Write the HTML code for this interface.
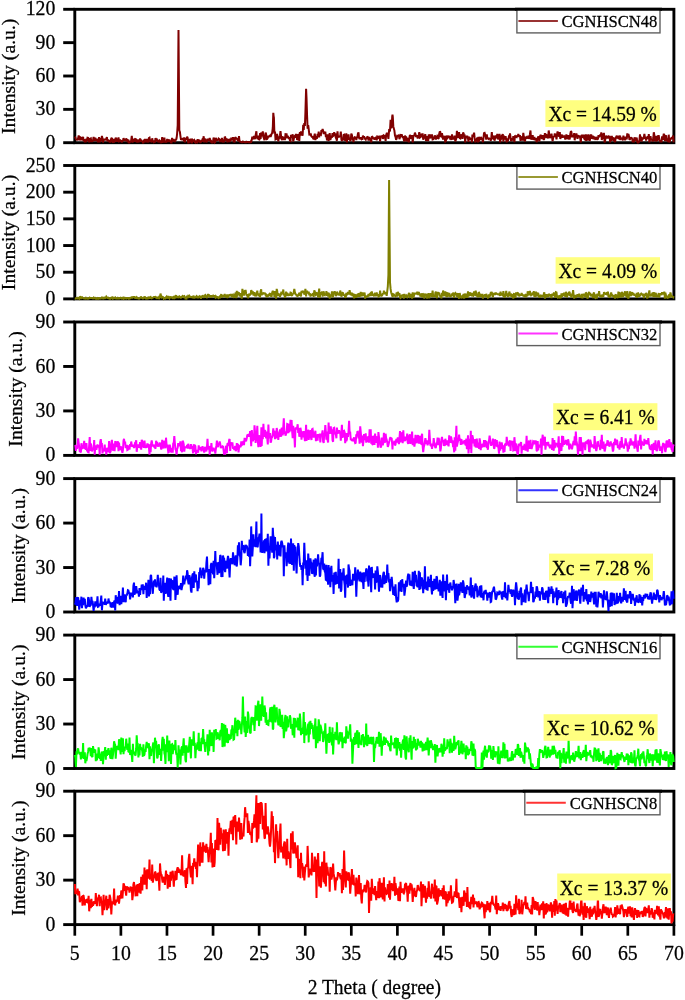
<!DOCTYPE html><html><head><meta charset="utf-8"><style>html,body{margin:0;padding:0;background:#fff;overflow:hidden}svg{display:block;will-change:transform}</style></head><body>
<svg width="685" height="1000" viewBox="0 0 685 1000" font-family="'Liberation Serif', serif" stroke-width="0.25">
<rect width="685" height="1000" fill="#fff"/>
<rect x="74.8" y="9.3" width="599.1" height="133.4" fill="none" stroke="#000" stroke-width="2.9"/>
<line x1="63.2" y1="142.70" x2="74.8" y2="142.70" stroke="#000" stroke-width="2.9"/>
<text transform="translate(55.4,148.7) scale(1,1.05)" font-size="19.8" text-anchor="end" fill="#000" stroke="#000">0</text>
<line x1="63.2" y1="109.35" x2="74.8" y2="109.35" stroke="#000" stroke-width="2.9"/>
<text transform="translate(55.4,115.4) scale(1,1.05)" font-size="19.8" text-anchor="end" fill="#000" stroke="#000">30</text>
<line x1="63.2" y1="76.00" x2="74.8" y2="76.00" stroke="#000" stroke-width="2.9"/>
<text transform="translate(55.4,82.0) scale(1,1.05)" font-size="19.8" text-anchor="end" fill="#000" stroke="#000">60</text>
<line x1="63.2" y1="42.65" x2="74.8" y2="42.65" stroke="#000" stroke-width="2.9"/>
<text transform="translate(55.4,48.7) scale(1,1.05)" font-size="19.8" text-anchor="end" fill="#000" stroke="#000">90</text>
<line x1="63.2" y1="9.30" x2="74.8" y2="9.30" stroke="#000" stroke-width="2.9"/>
<text transform="translate(55.4,15.3) scale(1,1.05)" font-size="19.8" text-anchor="end" fill="#000" stroke="#000">120</text>
<text transform="translate(15.4,76.3) rotate(-90)" font-size="19.7" text-anchor="middle" fill="#000" stroke="#000">Intensity (a.u.)</text>
<polyline points="74.8,138.3 75.4,137.6 75.9,138.8 76.5,140.1 77.0,139.2 77.6,140.3 78.1,138.1 78.7,135.4 79.2,139.3 79.8,139.6 80.3,137.2 80.9,137.5 81.4,138.0 82.0,140.2 82.5,138.3 83.1,136.8 83.6,141.1 84.2,139.2 84.8,142.2 85.3,141.0 85.9,142.1 86.4,138.7 87.0,140.9 87.5,137.7 88.1,137.9 88.6,138.6 89.2,142.4 89.7,139.6 90.3,138.7 90.8,138.4 91.4,142.0 91.9,139.9 92.5,141.0 93.0,140.7 93.6,136.9 94.2,140.9 94.7,139.4 95.3,137.6 95.8,140.8 96.4,139.9 96.9,139.5 97.5,139.7 98.0,142.4 98.6,139.8 99.1,137.1 99.7,142.4 100.2,138.2 100.8,139.7 101.3,141.3 101.9,135.9 102.5,138.5 103.0,142.4 103.6,139.9 104.1,138.9 104.7,140.5 105.2,138.7 105.8,140.2 106.3,138.7 106.9,137.2 107.4,141.5 108.0,139.7 108.5,141.1 109.1,139.9 109.6,142.4 110.2,141.4 110.7,140.6 111.3,138.4 111.9,137.9 112.4,142.4 113.0,141.9 113.5,139.0 114.1,142.4 114.6,141.3 115.2,140.5 115.7,137.8 116.3,138.9 116.8,141.1 117.4,141.1 117.9,140.9 118.5,137.3 119.0,141.3 119.6,141.1 120.1,139.7 120.7,140.7 121.3,140.9 121.8,142.4 122.4,140.5 122.9,141.4 123.5,138.1 124.0,139.1 124.6,140.5 125.1,139.1 125.7,141.2 126.2,138.3 126.8,140.5 127.3,139.3 127.9,142.4 128.4,139.8 129.0,142.4 129.5,142.4 130.1,141.1 130.7,142.3 131.2,140.1 131.8,135.9 132.3,142.2 132.9,141.7 133.4,140.1 134.0,139.5 134.5,140.8 135.1,140.9 135.6,139.1 136.2,139.4 136.7,142.4 137.3,140.6 137.8,140.4 138.4,142.4 138.9,140.0 139.5,142.2 140.1,138.5 140.6,140.1 141.2,140.3 141.7,141.7 142.3,140.7 142.8,142.4 143.4,142.4 143.9,139.7 144.5,142.4 145.0,138.8 145.6,142.4 146.1,139.0 146.7,142.2 147.2,138.9 147.8,140.2 148.4,142.4 148.9,138.0 149.5,137.6 150.0,140.6 150.6,141.0 151.1,140.8 151.7,142.4 152.2,138.3 152.8,141.6 153.3,140.6 153.9,142.1 154.4,141.7 155.0,142.4 155.5,138.0 156.1,140.8 156.6,138.5 157.2,140.5 157.8,141.9 158.3,141.1 158.9,141.6 159.4,140.5 160.0,141.2 160.5,141.1 161.1,142.4 161.6,142.1 162.2,137.2 162.7,141.8 163.3,142.4 163.8,139.8 164.4,137.7 164.9,142.4 165.5,140.9 166.0,141.7 166.6,142.4 167.2,139.0 167.7,140.5 168.3,140.3 168.8,142.0 169.4,139.6 169.9,141.5 170.5,140.8 171.0,142.4 171.6,142.4 172.1,137.8 172.7,141.5 173.2,139.9 173.8,140.5 174.3,141.3 174.9,141.4 175.4,139.0 176.0,140.3 176.6,138.1 177.1,133.8 177.7,125.2 178.2,66.4 178.5,30.1 178.8,68.9 179.3,130.2 179.9,132.0 180.4,135.8 181.0,139.9 181.5,139.2 182.1,138.9 182.6,138.8 183.2,138.6 183.7,141.3 184.3,137.4 184.9,142.4 185.4,138.7 186.0,139.4 186.5,138.7 187.1,136.7 187.6,137.5 188.2,142.4 188.7,142.4 189.3,138.8 189.8,142.3 190.4,140.4 190.9,138.7 191.5,142.4 192.0,142.4 192.6,139.8 193.1,140.2 193.7,140.8 194.3,140.2 194.8,142.0 195.4,142.4 195.9,140.6 196.5,142.2 197.0,142.4 197.6,139.3 198.1,140.4 198.7,139.5 199.2,142.2 199.8,141.5 200.3,142.2 200.9,142.0 201.4,139.9 202.0,141.8 202.5,139.5 203.1,139.6 203.7,136.3 204.2,142.4 204.8,138.5 205.3,140.4 205.9,140.2 206.4,142.4 207.0,141.1 207.5,138.8 208.1,140.3 208.6,140.0 209.2,140.7 209.7,137.9 210.3,140.2 210.8,142.4 211.4,141.5 211.9,142.4 212.5,142.4 213.1,141.2 213.6,137.6 214.2,140.0 214.7,142.4 215.3,141.9 215.8,137.9 216.4,139.8 216.9,140.0 217.5,140.2 218.0,140.0 218.6,138.6 219.1,139.0 219.7,139.7 220.2,142.1 220.8,139.1 221.3,141.4 221.9,138.0 222.5,142.4 223.0,140.3 223.6,140.1 224.1,142.4 224.7,136.8 225.2,137.3 225.8,140.9 226.3,138.6 226.9,139.3 227.4,142.4 228.0,139.5 228.5,140.1 229.1,139.8 229.6,142.0 230.2,140.5 230.8,140.3 231.3,137.7 231.9,139.3 232.4,140.0 233.0,137.1 233.5,141.0 234.1,140.7 234.6,142.4 235.2,137.0 235.7,138.1 236.3,138.2 236.8,138.7 237.4,139.7 237.9,139.5 238.5,141.1 239.0,136.0 239.6,142.0 240.2,141.5 240.7,141.8 241.3,142.1 241.8,142.2 242.4,142.2 242.9,141.5 243.5,141.9 244.0,142.0 244.6,142.1 245.1,142.4 245.7,142.1 246.2,141.7 246.8,142.2 247.3,142.1 247.9,142.1 248.4,142.0 249.0,142.4 249.6,142.1 250.1,142.3 250.7,141.7 251.2,141.8 251.8,139.6 252.3,136.7 252.9,138.7 253.4,138.5 254.0,136.1 254.5,136.6 255.1,139.2 255.6,135.4 256.4,131.2 256.7,137.3 257.3,137.1 257.8,139.4 258.4,135.7 259.0,139.9 259.5,139.5 260.1,133.2 260.6,139.0 261.2,133.7 261.4,132.5 261.7,135.9 262.3,135.1 262.8,131.4 263.4,137.1 263.9,138.2 264.5,140.2 265.0,136.5 265.6,132.6 266.1,134.0 266.7,139.1 267.2,138.9 267.8,137.9 268.4,135.8 268.9,137.1 269.5,136.0 270.0,135.6 270.6,136.9 271.1,135.5 271.7,133.6 272.2,132.8 272.8,127.7 273.3,112.8 273.6,115.8 273.9,117.6 274.4,133.6 275.0,131.6 275.5,139.5 276.1,139.2 276.7,134.0 277.2,134.8 277.8,137.2 278.3,141.4 278.9,137.9 279.4,138.7 280.0,135.2 280.5,131.0 281.1,136.4 281.6,139.1 282.2,140.1 282.7,137.2 283.3,137.5 283.8,140.1 284.4,136.8 284.9,140.1 285.5,134.2 286.1,134.3 286.6,134.3 287.2,138.4 287.7,135.8 288.3,137.4 288.8,138.1 289.4,138.0 289.9,140.5 290.5,140.9 291.0,134.9 291.6,137.5 292.1,136.4 292.7,134.3 293.2,141.5 293.8,139.0 294.3,136.4 294.9,135.8 295.5,137.8 296.0,134.0 296.6,136.1 297.1,139.8 297.7,139.0 298.2,134.2 298.8,135.0 299.3,141.0 299.9,132.1 300.4,133.8 301.0,131.4 301.5,135.5 302.1,134.5 302.6,135.7 303.2,124.7 303.7,130.0 304.3,123.1 304.9,126.0 305.4,112.8 306.1,88.9 306.5,97.5 307.1,116.2 307.6,128.8 308.2,125.1 308.7,129.1 309.3,134.4 309.8,134.2 310.4,135.0 310.9,134.5 311.5,136.2 312.0,137.3 312.6,136.2 313.1,138.3 313.7,139.2 314.3,136.0 314.8,133.7 315.4,140.1 315.9,136.1 316.5,137.9 317.0,138.7 317.6,133.8 318.1,137.3 318.7,131.7 319.2,137.3 319.8,133.6 320.3,134.3 320.9,134.7 321.4,130.2 322.0,131.4 322.6,128.9 323.1,130.7 323.7,134.0 324.2,132.3 324.8,132.9 325.3,131.5 325.9,137.2 326.4,135.5 327.0,140.3 327.5,134.3 328.1,138.9 328.6,140.9 329.2,136.3 329.7,133.1 330.3,139.8 330.8,138.4 331.4,137.1 332.0,137.6 332.5,133.2 333.1,136.0 333.6,135.6 334.2,132.2 334.7,136.0 335.3,133.3 335.8,137.6 336.4,138.7 336.9,140.7 337.5,131.3 338.0,137.3 338.6,135.9 339.1,136.7 339.7,136.2 340.2,136.6 340.8,131.7 341.4,139.5 341.9,140.8 342.5,139.4 343.0,140.3 343.6,134.9 344.1,134.7 344.7,139.4 345.2,140.5 345.8,137.8 346.3,133.3 346.9,142.4 347.4,135.6 348.0,139.8 348.5,134.3 349.1,139.9 349.6,137.8 350.2,141.0 350.8,139.7 351.3,133.5 351.9,135.0 352.4,138.2 353.0,139.4 353.5,142.1 354.1,138.2 354.6,137.2 355.2,137.4 355.7,137.4 356.3,140.1 356.8,137.3 357.4,137.2 357.9,133.8 358.5,132.3 359.0,137.5 359.6,139.1 360.2,137.3 360.7,138.7 361.3,139.1 361.8,137.3 362.4,139.9 362.9,135.6 363.5,137.4 364.0,136.5 364.6,137.6 365.1,139.0 365.7,139.6 366.2,137.8 366.8,138.6 367.3,136.5 367.9,137.2 368.5,140.7 369.0,137.0 369.6,140.6 370.1,138.7 370.7,137.9 371.2,142.4 371.8,136.9 372.3,136.7 372.9,137.6 373.4,138.2 374.0,138.1 374.5,139.7 375.1,137.8 375.6,138.6 376.2,136.9 376.7,140.3 377.3,136.5 377.9,136.8 378.4,137.5 379.0,138.3 379.5,135.7 380.1,141.5 380.6,135.9 381.2,136.5 381.7,136.4 382.3,136.1 382.8,138.8 383.4,137.8 383.9,135.5 384.5,136.0 385.0,136.5 385.6,140.8 386.1,135.3 386.7,133.4 387.3,133.4 387.8,134.9 388.4,138.8 389.1,130.2 389.5,130.4 390.0,130.5 390.6,119.9 391.1,127.9 391.7,126.9 392.2,116.6 392.5,114.7 392.8,116.8 393.3,126.4 393.9,128.7 394.4,130.6 395.0,135.8 395.5,136.7 396.1,139.7 396.7,138.5 397.2,135.8 397.8,136.0 398.3,136.8 398.9,134.5 399.4,139.1 400.0,137.3 400.5,135.2 401.1,135.6 401.6,134.4 402.2,136.1 402.7,137.9 403.3,136.2 403.8,139.7 404.4,141.4 405.0,135.6 405.5,137.3 406.1,136.3 406.6,141.5 407.2,138.1 407.7,138.7 408.3,139.4 408.8,142.4 409.4,138.0 409.9,134.8 410.5,136.2 411.0,138.7 411.6,137.2 412.1,135.2 412.7,142.4 413.2,137.5 413.8,135.7 414.4,135.4 414.9,132.7 415.5,134.2 416.0,136.3 416.6,136.4 417.1,135.1 417.7,138.5 418.2,137.2 418.8,134.8 419.3,132.1 419.9,137.6 420.4,137.3 421.0,136.6 421.5,133.7 422.1,137.2 422.6,133.4 423.2,139.6 423.8,137.6 424.3,137.7 424.9,135.1 425.4,134.4 426.0,141.0 426.5,139.5 427.1,136.3 427.6,138.8 428.2,141.1 428.7,134.5 429.3,135.9 429.8,135.9 430.4,138.4 430.9,134.5 431.5,137.8 432.0,134.3 432.6,139.5 433.2,139.3 433.7,136.6 434.3,138.9 434.8,135.4 435.4,136.5 435.9,139.5 436.5,137.0 437.0,138.0 437.6,134.8 438.1,138.8 438.7,138.3 439.2,134.0 439.8,131.4 440.3,132.0 440.9,137.0 441.4,136.6 442.0,133.2 442.6,137.5 443.1,139.6 443.7,136.8 444.2,136.0 444.8,139.3 445.3,141.4 445.9,140.9 446.4,135.5 447.0,139.2 447.5,137.6 448.1,136.7 448.6,135.7 449.2,138.1 449.7,136.0 450.3,139.6 450.9,138.2 451.4,139.9 452.0,134.4 452.5,137.4 453.1,139.2 453.6,138.2 454.2,137.9 454.7,135.6 455.3,141.5 455.8,140.0 456.4,138.4 456.9,130.9 457.5,135.0 458.0,137.7 458.6,135.6 459.1,132.2 459.7,138.1 460.3,138.4 460.8,134.4 461.4,136.2 461.9,135.8 462.5,138.8 463.0,132.6 463.6,133.2 464.1,136.1 464.7,135.8 465.2,142.4 465.8,135.9 466.3,138.1 466.9,136.5 467.4,135.9 468.0,138.5 468.5,141.9 469.1,136.7 469.7,139.5 470.2,138.5 470.8,139.2 471.3,138.6 471.9,142.4 472.4,134.6 473.0,137.1 473.5,134.9 474.1,132.7 474.6,137.7 475.2,142.4 475.7,140.0 476.3,140.9 476.8,139.1 477.4,137.6 477.9,142.4 478.5,136.9 479.1,141.7 479.6,137.1 480.2,138.1 480.7,138.7 481.3,138.1 481.8,139.3 482.4,139.5 482.9,142.2 483.5,138.0 484.0,133.2 484.6,132.9 485.1,134.6 485.7,136.2 486.2,139.7 486.8,134.3 487.3,138.1 487.9,138.2 488.5,138.8 489.0,137.8 489.6,139.1 490.1,138.2 490.7,140.8 491.2,138.9 491.8,132.2 492.3,138.1 492.9,138.5 493.4,136.6 494.0,136.1 494.5,140.7 495.1,138.4 495.6,135.5 496.2,137.1 496.8,137.5 497.3,133.8 497.9,139.5 498.4,137.5 499.0,139.0 499.5,133.9 500.1,142.4 500.6,139.4 501.2,139.0 501.7,136.0 502.3,136.1 502.8,134.1 503.4,141.6 503.9,135.7 504.5,138.3 505.0,139.2 505.6,136.1 506.2,139.8 506.7,142.4 507.3,138.4 507.8,141.2 508.4,139.1 508.9,136.5 509.5,136.6 510.0,133.4 510.6,137.9 511.1,141.2 511.7,139.2 512.2,139.6 512.8,140.4 513.3,136.2 513.9,138.9 514.4,142.2 515.0,135.4 515.6,137.5 516.1,136.3 516.7,136.9 517.2,135.5 517.8,137.0 518.3,134.0 518.9,136.0 519.4,136.1 520.0,136.1 520.5,140.8 521.1,137.5 521.6,137.7 522.2,136.6 522.7,140.5 523.3,132.9 523.8,136.8 524.4,140.1 525.0,141.4 525.5,137.8 526.1,137.3 526.6,138.8 527.2,136.8 527.7,138.6 528.3,135.6 528.8,138.8 529.4,137.1 529.9,134.5 530.5,130.5 531.0,139.5 531.6,138.1 532.1,139.1 532.7,135.0 533.2,139.8 533.8,138.2 534.4,137.0 534.9,139.4 535.5,139.3 536.0,138.1 536.6,142.2 537.1,140.5 537.7,137.9 538.2,136.5 538.8,137.3 539.3,141.3 539.9,138.0 540.4,134.9 541.0,135.5 541.5,137.0 542.1,139.1 542.7,135.2 543.2,138.3 543.8,139.8 544.3,138.8 544.9,133.2 545.4,136.2 546.0,133.9 546.5,138.0 547.1,134.4 547.6,138.3 548.2,137.2 548.7,130.5 549.3,134.8 549.8,138.0 550.4,137.0 550.9,135.9 551.5,133.7 552.1,137.9 552.6,141.1 553.2,137.4 553.7,136.7 554.3,136.4 554.8,133.4 555.4,135.9 555.9,134.6 556.5,139.4 557.0,134.5 557.6,131.4 558.1,134.7 558.7,136.0 559.2,136.2 559.8,132.1 560.3,138.9 560.9,136.9 561.5,135.5 562.0,134.7 562.6,137.7 563.1,135.8 563.7,137.3 564.2,136.3 564.8,137.0 565.3,139.5 565.9,136.7 566.4,134.5 567.0,139.1 567.5,137.3 568.1,135.1 568.6,139.5 569.2,136.3 569.7,139.5 570.3,134.0 570.9,131.1 571.4,131.8 572.0,137.4 572.5,135.1 573.1,136.6 573.6,136.7 574.2,133.1 574.7,140.3 575.3,134.4 575.8,137.2 576.4,133.5 576.9,136.6 577.5,138.8 578.0,136.4 578.6,135.3 579.2,137.1 579.7,136.0 580.3,138.5 580.8,142.4 581.4,135.0 581.9,135.5 582.5,136.9 583.0,137.1 583.6,134.7 584.1,138.5 584.7,139.1 585.2,137.8 585.8,134.4 586.3,140.9 586.9,134.5 587.4,139.1 588.0,140.2 588.6,134.4 589.1,137.8 589.7,140.8 590.2,138.5 590.8,135.3 591.3,134.6 591.9,138.7 592.4,136.6 593.0,135.9 593.5,139.3 594.1,136.8 594.6,137.8 595.2,139.1 595.7,139.0 596.3,137.6 596.8,137.7 597.4,139.2 598.0,138.9 598.5,135.1 599.1,137.3 599.6,135.7 600.2,134.9 600.7,136.5 601.3,132.3 601.8,140.0 602.4,136.0 602.9,138.8 603.5,133.4 604.0,133.8 604.6,142.4 605.1,140.5 605.7,136.5 606.2,136.2 606.8,136.3 607.4,138.4 607.9,137.1 608.5,136.6 609.0,138.4 609.6,135.7 610.1,142.4 610.7,136.7 611.2,140.8 611.8,135.9 612.3,138.8 612.9,140.5 613.4,137.3 614.0,140.5 614.5,140.5 615.1,142.1 615.6,138.3 616.2,137.0 616.8,135.7 617.3,138.6 617.9,135.7 618.4,138.2 619.0,138.5 619.5,136.8 620.1,135.6 620.6,139.1 621.2,138.9 621.7,138.7 622.3,138.0 622.8,140.5 623.4,135.7 623.9,139.2 624.5,137.1 625.1,140.3 625.6,137.4 626.2,137.3 626.7,139.3 627.3,133.3 627.8,137.3 628.4,133.9 628.9,135.9 629.5,139.9 630.0,139.2 630.6,137.2 631.1,138.1 631.7,138.1 632.2,139.0 632.8,142.4 633.3,138.8 633.9,142.4 634.5,137.3 635.0,140.0 635.6,140.0 636.1,138.8 636.7,137.6 637.2,141.8 637.8,142.4 638.3,140.9 638.9,142.4 639.4,140.6 640.0,134.3 640.5,140.9 641.1,136.6 641.6,141.6 642.2,137.5 642.7,139.0 643.3,138.4 643.9,136.9 644.4,133.9 645.0,137.8 645.5,137.9 646.1,140.6 646.6,136.8 647.2,138.9 647.7,136.2 648.3,138.4 648.8,134.0 649.4,142.4 649.9,139.0 650.5,136.1 651.0,139.1 651.6,140.2 652.1,138.9 652.7,141.6 653.3,138.0 653.8,132.3 654.4,135.4 654.9,141.0 655.5,140.4 656.0,139.2 656.6,135.8 657.1,140.3 657.7,139.9 658.2,136.1 658.8,136.1 659.3,139.2 659.9,141.0 660.4,142.1 661.0,140.0 661.5,142.4 662.1,136.4 662.7,139.8 663.2,137.1 663.8,133.7 664.3,135.4 664.9,141.1 665.4,136.1 666.0,135.4 666.5,140.1 667.1,140.6 667.6,138.5 668.2,142.2 668.7,134.7 669.3,142.4 669.8,141.0 670.4,138.9 671.0,138.8 671.5,137.8 672.1,137.6 672.6,138.8 673.2,135.5 673.7,142.4" fill="none" stroke="#800000" stroke-width="2.0" stroke-linejoin="miter" stroke-miterlimit="2"/>
<rect x="545.4" y="100.2" width="114.4" height="26.7" fill="#ffff80"/>
<text transform="translate(602.6,120.9) scale(1,1.05)" font-size="19.5" text-anchor="middle" fill="#000" stroke="#000">Xc = 14.59 %</text>
<rect x="516.9" y="9.3" width="143.1" height="23.6" fill="#fff" stroke="#606060" stroke-width="1.4"/>
<line x1="518.4" y1="20.9" x2="557.9" y2="20.9" stroke="#800000" stroke-opacity="0.8" stroke-width="2"/>
<text transform="translate(657.4,26.9) scale(1,1.05)" font-size="16.6" text-anchor="end" fill="#000" stroke="#000">CGNHSCN48</text>
<line x1="514.9" y1="9.3" x2="662" y2="9.3" stroke="#000" stroke-width="2.9"/>
<rect x="74.8" y="165.5" width="599.1" height="133.4" fill="none" stroke="#000" stroke-width="2.9"/>
<line x1="63.2" y1="298.90" x2="74.8" y2="298.90" stroke="#000" stroke-width="2.9"/>
<text transform="translate(55.4,304.9) scale(1,1.05)" font-size="19.8" text-anchor="end" fill="#000" stroke="#000">0</text>
<line x1="63.2" y1="272.22" x2="74.8" y2="272.22" stroke="#000" stroke-width="2.9"/>
<text transform="translate(55.4,278.2) scale(1,1.05)" font-size="19.8" text-anchor="end" fill="#000" stroke="#000">50</text>
<line x1="63.2" y1="245.54" x2="74.8" y2="245.54" stroke="#000" stroke-width="2.9"/>
<text transform="translate(55.4,251.5) scale(1,1.05)" font-size="19.8" text-anchor="end" fill="#000" stroke="#000">100</text>
<line x1="63.2" y1="218.86" x2="74.8" y2="218.86" stroke="#000" stroke-width="2.9"/>
<text transform="translate(55.4,224.9) scale(1,1.05)" font-size="19.8" text-anchor="end" fill="#000" stroke="#000">150</text>
<line x1="63.2" y1="192.18" x2="74.8" y2="192.18" stroke="#000" stroke-width="2.9"/>
<text transform="translate(55.4,198.2) scale(1,1.05)" font-size="19.8" text-anchor="end" fill="#000" stroke="#000">200</text>
<line x1="63.2" y1="165.50" x2="74.8" y2="165.50" stroke="#000" stroke-width="2.9"/>
<text transform="translate(55.4,171.5) scale(1,1.05)" font-size="19.8" text-anchor="end" fill="#000" stroke="#000">250</text>
<text transform="translate(15.3,232.5) rotate(-90)" font-size="19.7" text-anchor="middle" fill="#000" stroke="#000">Intensity (a.u.)</text>
<polyline points="74.8,298.3 75.4,298.6 75.9,298.2 76.5,298.1 77.0,298.6 77.6,298.6 78.1,297.8 78.7,298.0 79.2,298.6 79.8,297.0 80.3,296.9 80.9,298.6 81.4,298.0 82.0,296.7 82.5,297.8 83.1,298.1 83.6,298.3 84.2,298.5 84.8,298.3 85.3,298.5 85.9,297.8 86.4,298.4 87.0,298.5 87.5,298.6 88.1,298.2 88.6,298.6 89.2,298.3 89.7,297.6 90.3,298.0 90.8,297.9 91.4,298.0 91.9,298.1 92.5,298.3 93.0,298.4 93.6,297.7 94.2,298.6 94.7,297.3 95.3,298.1 95.8,298.6 96.4,298.5 96.9,298.6 97.5,298.1 98.0,298.6 98.6,297.4 99.1,298.6 99.7,298.6 100.2,298.6 100.8,298.6 101.3,298.2 101.9,297.5 102.5,297.7 103.0,298.6 103.6,298.6 104.1,297.0 104.7,297.9 105.2,298.1 105.8,297.4 106.3,296.5 106.9,297.3 107.4,298.0 108.0,297.9 108.5,297.7 109.1,298.5 109.6,298.6 110.2,298.1 110.7,298.6 111.3,298.1 111.9,298.0 112.4,296.6 113.0,298.6 113.5,298.2 114.1,298.2 114.6,297.8 115.2,297.4 115.7,298.4 116.3,298.6 116.8,298.6 117.4,298.6 117.9,297.7 118.5,298.0 119.0,298.6 119.6,298.3 120.1,298.0 120.7,297.7 121.3,298.4 121.8,298.2 122.4,298.6 122.9,298.6 123.5,296.9 124.0,298.6 124.6,298.2 125.1,297.9 125.7,298.3 126.2,298.5 126.8,298.0 127.3,298.0 127.9,298.0 128.4,298.6 129.0,298.1 129.5,298.6 130.1,298.3 130.7,297.8 131.2,297.5 131.8,297.3 132.3,298.3 132.9,297.3 133.4,297.1 134.0,297.1 134.5,297.0 135.1,298.0 135.6,298.0 136.2,297.3 136.7,298.6 137.3,297.8 137.8,298.3 138.4,298.2 138.9,298.6 139.5,298.5 140.1,297.9 140.6,297.3 141.2,297.2 141.7,297.9 142.3,298.0 142.8,298.4 143.4,297.6 143.9,298.0 144.5,297.4 145.0,296.6 145.6,297.9 146.1,298.6 146.7,298.4 147.2,298.6 147.8,298.6 148.4,296.9 148.9,297.6 149.5,298.6 150.0,297.3 150.6,296.9 151.1,298.0 151.7,298.3 152.2,298.0 152.8,297.6 153.3,297.3 153.9,296.9 154.4,296.9 155.0,296.9 155.5,296.8 156.1,297.3 156.6,298.6 157.2,297.8 157.8,297.5 158.3,298.0 158.9,297.1 159.4,298.0 160.0,297.2 160.5,293.6 161.1,295.9 161.6,297.4 162.2,296.9 162.7,296.8 163.3,297.3 163.8,298.6 164.4,298.0 164.9,297.8 165.5,298.2 166.0,297.3 166.6,296.6 167.2,297.8 167.7,298.3 168.3,295.9 168.8,297.8 169.4,298.4 169.9,297.2 170.5,297.1 171.0,298.0 171.6,296.8 172.1,297.8 172.7,298.1 173.2,297.2 173.8,296.8 174.3,297.9 174.9,297.1 175.4,297.4 176.0,295.1 176.6,297.9 177.1,296.2 177.7,297.3 178.2,297.4 178.5,296.7 178.8,296.6 179.3,296.3 179.9,297.0 180.4,297.7 181.0,297.7 181.5,296.8 182.1,296.8 182.6,296.1 183.2,296.9 183.7,296.3 184.3,296.0 184.9,297.1 185.4,298.4 186.0,298.1 186.5,298.4 187.1,295.8 187.6,297.9 188.2,296.1 188.7,296.6 189.3,295.7 189.8,296.3 190.4,297.2 190.9,297.3 191.5,297.0 192.0,296.9 192.6,297.5 193.1,297.1 193.7,295.7 194.3,298.5 194.8,296.8 195.4,297.8 195.9,296.8 196.5,296.2 197.0,297.0 197.6,296.2 198.1,298.3 198.7,295.9 199.2,297.4 199.8,296.3 200.3,296.7 200.9,298.6 201.4,297.4 202.0,296.6 202.5,295.3 203.1,296.4 203.7,296.5 204.2,297.9 204.8,295.3 205.3,295.0 205.9,296.6 206.4,296.8 207.0,298.0 207.5,295.7 208.1,294.0 208.6,295.8 209.2,295.3 209.7,295.9 210.3,297.3 210.8,295.2 211.4,297.5 211.9,296.6 212.5,296.1 213.1,295.5 213.6,295.9 214.2,295.9 214.7,297.0 215.3,297.5 215.8,296.2 216.4,296.9 216.9,297.4 217.5,297.4 218.0,296.6 218.6,297.9 219.1,297.4 219.7,297.6 220.2,295.9 220.8,295.6 221.3,294.1 221.9,297.4 222.5,296.6 223.0,295.0 223.6,296.1 224.1,296.2 224.7,294.1 225.2,296.1 225.8,296.9 226.3,297.0 226.9,295.3 227.4,295.3 228.0,297.0 228.5,296.5 229.1,295.0 229.6,294.9 230.2,296.1 230.8,294.8 231.3,294.8 231.9,297.2 232.4,295.6 233.0,294.8 233.5,295.9 234.1,297.9 234.6,295.5 235.2,294.0 235.7,292.7 236.3,298.2 236.8,290.8 237.4,296.6 237.9,293.1 238.5,292.6 239.0,292.9 239.6,294.2 240.2,296.6 240.7,293.2 241.3,295.7 241.8,298.6 242.4,288.8 242.9,292.8 243.5,290.6 244.0,295.7 244.6,291.1 245.1,290.8 245.7,290.8 246.2,293.9 246.8,296.1 247.3,294.2 247.9,298.1 248.4,297.1 249.0,293.7 249.6,295.8 250.1,294.2 250.7,294.1 251.2,290.1 251.8,291.4 252.3,293.9 252.9,291.5 253.4,295.4 254.0,294.5 254.5,292.1 255.1,296.3 255.6,294.4 256.4,296.4 256.7,293.7 257.3,290.7 257.8,295.3 258.4,293.5 259.0,295.6 259.5,296.1 260.1,296.3 260.6,291.1 261.2,289.4 261.4,293.0 261.7,295.3 262.3,292.6 262.8,294.6 263.4,292.4 263.9,293.4 264.5,293.4 265.0,292.8 265.6,295.0 266.1,294.7 266.7,297.2 267.2,294.8 267.8,296.7 268.4,294.2 268.9,295.8 269.5,293.7 270.0,293.1 270.6,296.7 271.1,295.5 271.7,295.8 272.2,292.5 272.8,290.7 273.3,292.3 273.6,294.6 273.9,291.1 274.4,296.9 275.0,291.1 275.5,295.2 276.1,298.6 276.7,288.9 277.2,290.9 277.8,296.0 278.3,293.7 278.9,294.4 279.4,293.8 280.0,296.8 280.5,295.3 281.1,293.1 281.6,293.6 282.2,291.7 282.7,293.8 283.3,289.5 283.8,295.4 284.4,293.5 284.9,297.7 285.5,296.4 286.1,291.5 286.6,295.8 287.2,293.0 287.7,294.1 288.3,296.0 288.8,294.7 289.4,295.0 289.9,295.0 290.5,292.6 291.0,292.8 291.6,295.1 292.1,295.8 292.7,293.5 293.2,294.2 293.8,292.1 294.3,288.9 294.9,292.4 295.5,294.1 296.0,294.4 296.6,295.7 297.1,295.8 297.7,296.0 298.2,294.8 298.8,294.9 299.3,292.6 299.9,294.8 300.4,294.5 301.0,296.4 301.5,290.9 302.1,293.1 302.6,290.6 303.2,292.6 303.7,291.2 304.3,294.6 304.9,292.7 305.4,288.9 306.1,296.5 306.5,291.8 307.1,290.8 307.6,293.3 308.2,292.6 308.7,291.7 309.3,295.4 309.8,293.3 310.4,295.8 310.9,295.5 311.5,295.4 312.0,294.4 312.6,293.9 313.1,293.3 313.7,296.9 314.3,290.3 314.8,291.9 315.4,292.7 315.9,294.9 316.5,294.4 317.0,293.1 317.6,293.4 318.1,297.5 318.7,292.7 319.2,288.5 319.8,297.8 320.3,292.2 320.9,293.5 321.4,294.4 322.0,291.5 322.6,296.6 323.1,293.9 323.7,291.3 324.2,294.6 324.8,295.1 325.3,294.0 325.9,295.1 326.4,291.2 327.0,296.0 327.5,292.5 328.1,296.7 328.6,292.9 329.2,294.5 329.7,298.6 330.3,294.3 330.8,296.4 331.4,295.2 332.0,291.3 332.5,296.5 333.1,296.4 333.6,291.5 334.2,294.1 334.7,291.3 335.3,293.7 335.8,296.1 336.4,294.5 336.9,291.9 337.5,292.5 338.0,294.3 338.6,294.2 339.1,294.6 339.7,295.5 340.2,290.5 340.8,294.3 341.4,296.6 341.9,295.3 342.5,292.9 343.0,293.1 343.6,294.6 344.1,295.7 344.7,294.3 345.2,297.7 345.8,297.0 346.3,292.8 346.9,295.3 347.4,293.7 348.0,292.0 348.5,293.1 349.1,294.4 349.6,290.2 350.2,293.1 350.8,295.1 351.3,293.0 351.9,293.6 352.4,296.1 353.0,294.3 353.5,294.8 354.1,298.3 354.6,294.8 355.2,295.0 355.7,295.3 356.3,297.7 356.8,295.2 357.4,294.6 357.9,294.3 358.5,296.7 359.0,293.2 359.6,296.9 360.2,294.9 360.7,291.9 361.3,295.9 361.8,295.5 362.4,292.4 362.9,295.3 363.5,295.1 364.0,294.1 364.6,292.5 365.1,298.6 365.7,296.2 366.2,296.5 366.8,296.7 367.3,296.2 367.9,296.2 368.5,294.0 369.0,296.3 369.6,294.3 370.1,293.8 370.7,296.0 371.2,294.3 371.8,291.4 372.3,293.9 372.9,295.8 373.4,294.7 374.0,296.4 374.5,294.1 375.1,292.9 375.6,296.2 376.2,295.0 376.7,292.4 377.3,295.6 377.9,294.3 378.4,296.6 379.0,296.2 379.5,295.6 380.1,290.5 380.6,295.4 381.2,295.7 381.7,295.7 382.3,295.0 382.8,293.4 383.4,294.3 383.9,290.7 384.5,294.2 385.0,291.9 385.6,294.0 386.1,293.0 386.7,295.9 387.3,290.9 387.8,286.7 388.4,275.0 389.1,180.0 389.5,226.2 390.0,282.4 390.6,288.9 391.1,292.2 391.7,294.1 392.2,293.6 392.5,297.0 392.8,296.4 393.3,294.1 393.9,294.4 394.4,295.4 395.0,295.8 395.5,296.3 396.1,294.8 396.7,292.4 397.2,296.7 397.8,291.8 398.3,293.1 398.9,295.6 399.4,293.2 400.0,297.5 400.5,298.0 401.1,297.2 401.6,295.5 402.2,295.4 402.7,295.7 403.3,294.5 403.8,298.6 404.4,293.8 405.0,297.5 405.5,296.0 406.1,295.5 406.6,297.0 407.2,297.4 407.7,296.7 408.3,294.8 408.8,293.6 409.4,293.7 409.9,296.7 410.5,296.3 411.0,296.5 411.6,293.9 412.1,298.6 412.7,292.4 413.2,295.7 413.8,296.3 414.4,294.1 414.9,292.8 415.5,294.1 416.0,292.8 416.6,294.5 417.1,292.4 417.7,292.4 418.2,295.0 418.8,292.0 419.3,294.5 419.9,294.6 420.4,296.6 421.0,295.4 421.5,293.3 422.1,297.3 422.6,293.6 423.2,294.1 423.8,294.3 424.3,298.6 424.9,295.0 425.4,293.6 426.0,296.3 426.5,294.7 427.1,298.6 427.6,293.5 428.2,296.1 428.7,293.2 429.3,298.4 429.8,293.5 430.4,295.3 430.9,293.3 431.5,296.6 432.0,296.0 432.6,290.5 433.2,296.4 433.7,296.2 434.3,295.4 434.8,296.8 435.4,292.6 435.9,291.6 436.5,296.2 437.0,298.2 437.6,292.6 438.1,292.7 438.7,293.3 439.2,292.7 439.8,296.5 440.3,295.2 440.9,297.5 441.4,297.6 442.0,293.0 442.6,296.2 443.1,290.5 443.7,294.8 444.2,296.1 444.8,293.4 445.3,291.4 445.9,294.0 446.4,297.2 447.0,294.2 447.5,292.3 448.1,295.9 448.6,296.4 449.2,293.0 449.7,294.6 450.3,297.0 450.9,295.6 451.4,296.4 452.0,294.4 452.5,294.7 453.1,292.7 453.6,293.6 454.2,297.9 454.7,294.1 455.3,293.2 455.8,294.1 456.4,293.0 456.9,296.0 457.5,296.8 458.0,293.2 458.6,297.0 459.1,298.6 459.7,293.0 460.3,296.3 460.8,295.5 461.4,297.6 461.9,297.5 462.5,297.2 463.0,295.6 463.6,294.2 464.1,298.6 464.7,293.5 465.2,297.2 465.8,297.0 466.3,293.7 466.9,295.1 467.4,297.9 468.0,291.4 468.5,296.6 469.1,294.5 469.7,294.6 470.2,292.3 470.8,295.9 471.3,293.0 471.9,296.4 472.4,292.8 473.0,296.4 473.5,295.7 474.1,291.3 474.6,294.4 475.2,294.8 475.7,290.7 476.3,294.3 476.8,296.6 477.4,293.6 477.9,297.3 478.5,292.8 479.1,292.7 479.6,296.1 480.2,296.2 480.7,294.7 481.3,295.0 481.8,296.9 482.4,293.9 482.9,298.6 483.5,295.8 484.0,295.8 484.6,295.5 485.1,294.4 485.7,297.4 486.2,293.9 486.8,295.4 487.3,296.3 487.9,297.7 488.5,297.3 489.0,294.3 489.6,296.9 490.1,294.9 490.7,293.0 491.2,293.1 491.8,292.0 492.3,295.6 492.9,297.1 493.4,293.1 494.0,294.4 494.5,292.9 495.1,295.0 495.6,292.8 496.2,293.4 496.8,293.7 497.3,294.1 497.9,294.3 498.4,294.6 499.0,294.6 499.5,293.2 500.1,296.0 500.6,291.7 501.2,295.3 501.7,293.2 502.3,295.2 502.8,295.5 503.4,291.2 503.9,295.7 504.5,297.5 505.0,296.4 505.6,295.7 506.2,290.9 506.7,294.7 507.3,293.3 507.8,297.0 508.4,294.4 508.9,293.8 509.5,291.6 510.0,296.4 510.6,293.9 511.1,294.5 511.7,297.1 512.2,295.1 512.8,295.6 513.3,298.6 513.9,294.0 514.4,294.1 515.0,295.9 515.6,297.7 516.1,292.3 516.7,294.6 517.2,293.2 517.8,292.4 518.3,296.1 518.9,293.6 519.4,295.6 520.0,295.2 520.5,295.3 521.1,295.1 521.6,293.0 522.2,294.9 522.7,295.4 523.3,295.7 523.8,294.5 524.4,296.9 525.0,296.1 525.5,295.2 526.1,296.2 526.6,295.4 527.2,296.3 527.7,291.3 528.3,292.6 528.8,294.3 529.4,295.2 529.9,290.9 530.5,294.5 531.0,295.3 531.6,294.6 532.1,294.6 532.7,292.4 533.2,295.2 533.8,291.1 534.4,296.9 534.9,293.8 535.5,297.1 536.0,291.7 536.6,295.8 537.1,295.3 537.7,293.4 538.2,292.8 538.8,297.3 539.3,295.8 539.9,297.8 540.4,294.9 541.0,295.4 541.5,295.8 542.1,296.5 542.7,295.9 543.2,296.6 543.8,294.1 544.3,292.3 544.9,298.6 545.4,295.4 546.0,296.0 546.5,294.2 547.1,297.0 547.6,295.4 548.2,297.2 548.7,293.8 549.3,295.0 549.8,295.5 550.4,294.5 550.9,295.6 551.5,298.1 552.1,294.0 552.6,294.6 553.2,295.5 553.7,293.3 554.3,292.8 554.8,297.3 555.4,296.7 555.9,292.2 556.5,292.4 557.0,296.6 557.6,297.4 558.1,296.4 558.7,296.1 559.2,298.2 559.8,295.1 560.3,297.6 560.9,297.5 561.5,293.4 562.0,296.5 562.6,295.3 563.1,294.0 563.7,293.6 564.2,295.8 564.8,295.1 565.3,296.8 565.9,291.8 566.4,293.9 567.0,297.3 567.5,295.2 568.1,293.8 568.6,294.2 569.2,291.7 569.7,292.5 570.3,296.2 570.9,295.3 571.4,297.6 572.0,294.7 572.5,294.9 573.1,290.0 573.6,295.0 574.2,298.6 574.7,296.5 575.3,294.9 575.8,297.6 576.4,296.8 576.9,295.9 577.5,294.5 578.0,295.5 578.6,296.9 579.2,293.7 579.7,296.2 580.3,296.1 580.8,297.8 581.4,296.7 581.9,293.9 582.5,298.3 583.0,295.3 583.6,293.8 584.1,295.9 584.7,294.7 585.2,297.3 585.8,292.6 586.3,293.0 586.9,294.7 587.4,298.5 588.0,297.2 588.6,293.3 589.1,291.9 589.7,294.6 590.2,292.8 590.8,296.3 591.3,295.5 591.9,295.2 592.4,294.4 593.0,298.1 593.5,293.4 594.1,292.6 594.6,297.4 595.2,297.8 595.7,294.5 596.3,296.4 596.8,298.6 597.4,293.6 598.0,294.9 598.5,296.1 599.1,291.1 599.6,294.9 600.2,296.6 600.7,295.0 601.3,297.2 601.8,296.6 602.4,294.4 602.9,296.2 603.5,296.0 604.0,292.0 604.6,293.5 605.1,293.6 605.7,294.1 606.2,294.2 606.8,292.4 607.4,295.2 607.9,291.6 608.5,297.0 609.0,295.7 609.6,297.8 610.1,295.8 610.7,294.2 611.2,292.4 611.8,296.4 612.3,295.2 612.9,295.9 613.4,296.6 614.0,297.4 614.5,295.0 615.1,298.5 615.6,295.0 616.2,295.1 616.8,296.4 617.3,297.1 617.9,297.8 618.4,291.6 619.0,297.7 619.5,292.2 620.1,294.0 620.6,295.9 621.2,297.4 621.7,293.2 622.3,291.8 622.8,297.0 623.4,295.7 623.9,293.1 624.5,294.5 625.1,291.3 625.6,296.3 626.2,294.1 626.7,297.6 627.3,291.1 627.8,296.6 628.4,298.6 628.9,295.4 629.5,295.4 630.0,291.5 630.6,295.8 631.1,295.2 631.7,294.0 632.2,292.1 632.8,295.3 633.3,293.2 633.9,294.2 634.5,295.7 635.0,295.0 635.6,295.1 636.1,296.9 636.7,292.8 637.2,297.8 637.8,292.9 638.3,293.3 638.9,295.3 639.4,296.6 640.0,295.6 640.5,294.3 641.1,293.7 641.6,294.6 642.2,293.3 642.7,296.2 643.3,294.7 643.9,298.2 644.4,293.7 645.0,294.9 645.5,296.0 646.1,292.9 646.6,293.8 647.2,298.6 647.7,295.1 648.3,298.0 648.8,293.1 649.4,290.4 649.9,296.2 650.5,295.0 651.0,295.6 651.6,294.5 652.1,293.9 652.7,292.7 653.3,297.1 653.8,292.1 654.4,297.0 654.9,294.6 655.5,292.9 656.0,293.8 656.6,297.0 657.1,296.5 657.7,296.1 658.2,295.3 658.8,293.0 659.3,297.6 659.9,294.3 660.4,294.0 661.0,294.1 661.5,294.3 662.1,292.2 662.7,294.2 663.2,293.5 663.8,294.1 664.3,291.7 664.9,298.6 665.4,292.7 666.0,295.7 666.5,295.7 667.1,297.0 667.6,298.6 668.2,295.9 668.7,296.5 669.3,294.2 669.8,298.0 670.4,292.4 671.0,294.6 671.5,295.6 672.1,296.5 672.6,296.7 673.2,297.3 673.7,296.2" fill="none" stroke="#808000" stroke-width="2.0" stroke-linejoin="miter" stroke-miterlimit="2"/>
<rect x="555.6" y="257.2" width="104.4" height="26.5" fill="#ffff80"/>
<text transform="translate(607.8,277.7) scale(1,1.05)" font-size="19.5" text-anchor="middle" fill="#000" stroke="#000">Xc = 4.09 %</text>
<rect x="516.9" y="165.5" width="143.1" height="23.6" fill="#fff" stroke="#606060" stroke-width="1.4"/>
<line x1="518.4" y1="177.1" x2="557.9" y2="177.1" stroke="#808000" stroke-opacity="0.8" stroke-width="2"/>
<text transform="translate(657.4,183.1) scale(1,1.05)" font-size="16.6" text-anchor="end" fill="#000" stroke="#000">CGNHSCN40</text>
<line x1="514.9" y1="165.5" x2="662" y2="165.5" stroke="#000" stroke-width="2.9"/>
<rect x="74.8" y="322.0" width="599.1" height="133.4" fill="none" stroke="#000" stroke-width="2.9"/>
<line x1="63.2" y1="455.40" x2="74.8" y2="455.40" stroke="#000" stroke-width="2.9"/>
<text transform="translate(55.4,461.4) scale(1,1.05)" font-size="19.8" text-anchor="end" fill="#000" stroke="#000">0</text>
<line x1="63.2" y1="410.93" x2="74.8" y2="410.93" stroke="#000" stroke-width="2.9"/>
<text transform="translate(55.4,416.9) scale(1,1.05)" font-size="19.8" text-anchor="end" fill="#000" stroke="#000">30</text>
<line x1="63.2" y1="366.47" x2="74.8" y2="366.47" stroke="#000" stroke-width="2.9"/>
<text transform="translate(55.4,372.5) scale(1,1.05)" font-size="19.8" text-anchor="end" fill="#000" stroke="#000">60</text>
<line x1="63.2" y1="322.00" x2="74.8" y2="322.00" stroke="#000" stroke-width="2.9"/>
<text transform="translate(55.4,328.0) scale(1,1.05)" font-size="19.8" text-anchor="end" fill="#000" stroke="#000">90</text>
<text transform="translate(21.6,389.0) rotate(-90)" font-size="19.7" text-anchor="middle" fill="#000" stroke="#000">Intensity (a.u.)</text>
<polyline points="74.8,445.1 75.4,445.9 75.9,450.8 76.5,446.4 77.0,448.9 77.6,444.9 78.1,438.4 78.7,443.2 79.2,446.9 79.8,452.0 80.3,451.3 80.9,452.4 81.4,443.2 82.0,449.0 82.5,445.9 83.1,448.6 83.6,445.9 84.2,440.9 84.8,449.0 85.3,447.8 85.9,449.6 86.4,443.2 87.0,450.6 87.5,451.1 88.1,452.1 88.6,452.3 89.2,445.1 89.7,437.1 90.3,450.9 90.8,443.5 91.4,446.2 91.9,451.5 92.5,448.4 93.0,448.3 93.6,450.1 94.2,440.1 94.7,454.7 95.3,446.1 95.8,446.4 96.4,449.9 96.9,447.1 97.5,444.4 98.0,447.2 98.6,446.2 99.1,445.2 99.7,454.7 100.2,442.2 100.8,439.2 101.3,444.2 101.9,444.1 102.5,453.5 103.0,448.5 103.6,451.2 104.1,450.4 104.7,444.5 105.2,451.3 105.8,448.7 106.3,454.7 106.9,448.9 107.4,448.0 108.0,451.1 108.5,451.2 109.1,441.1 109.6,453.0 110.2,452.3 110.7,451.3 111.3,443.5 111.9,439.9 112.4,446.7 113.0,450.6 113.5,449.4 114.1,443.6 114.6,451.1 115.2,442.0 115.7,442.0 116.3,447.1 116.8,444.8 117.4,444.4 117.9,441.2 118.5,451.1 119.0,442.5 119.6,448.4 120.1,449.8 120.7,446.4 121.3,447.5 121.8,450.4 122.4,452.7 122.9,450.1 123.5,440.8 124.0,438.8 124.6,443.7 125.1,441.6 125.7,448.1 126.2,446.3 126.8,444.8 127.3,450.0 127.9,449.6 128.4,445.3 129.0,446.9 129.5,449.6 130.1,444.0 130.7,446.5 131.2,441.5 131.8,445.4 132.3,446.6 132.9,444.9 133.4,446.0 134.0,447.9 134.5,446.9 135.1,442.4 135.6,442.8 136.2,440.3 136.7,451.8 137.3,446.7 137.8,446.8 138.4,444.5 138.9,446.9 139.5,447.1 140.1,442.1 140.6,444.4 141.2,449.6 141.7,439.9 142.3,441.2 142.8,447.3 143.4,441.8 143.9,447.8 144.5,440.6 145.0,445.8 145.6,448.0 146.1,446.4 146.7,447.9 147.2,444.2 147.8,444.2 148.4,444.7 148.9,447.0 149.5,454.7 150.0,444.4 150.6,452.1 151.1,443.8 151.7,440.4 152.2,443.7 152.8,446.3 153.3,445.6 153.9,445.5 154.4,447.2 155.0,447.4 155.5,448.8 156.1,440.7 156.6,445.5 157.2,441.8 157.8,446.5 158.3,445.4 158.9,446.4 159.4,444.0 160.0,442.7 160.5,445.1 161.1,448.7 161.6,449.2 162.2,439.8 162.7,447.4 163.3,447.5 163.8,440.8 164.4,442.4 164.9,444.6 165.5,448.3 166.0,437.7 166.6,445.4 167.2,444.8 167.7,447.6 168.3,452.4 168.8,452.1 169.4,445.4 169.9,445.4 170.5,447.9 171.0,451.5 171.6,452.5 172.1,448.2 172.7,452.6 173.2,443.5 173.8,442.5 174.3,436.0 174.9,443.6 175.4,449.2 176.0,450.3 176.6,454.7 177.1,449.2 177.7,447.6 178.2,443.2 178.5,444.6 178.8,444.7 179.3,446.1 179.9,444.4 180.4,441.4 181.0,451.1 181.5,448.7 182.1,452.3 182.6,440.7 183.2,442.0 183.7,444.1 184.3,451.6 184.9,446.3 185.4,447.9 186.0,446.6 186.5,447.7 187.1,444.9 187.6,448.5 188.2,443.8 188.7,446.2 189.3,448.3 189.8,447.7 190.4,449.0 190.9,444.2 191.5,448.5 192.0,446.3 192.6,449.0 193.1,453.3 193.7,444.2 194.3,451.8 194.8,445.1 195.4,446.2 195.9,454.3 196.5,451.6 197.0,450.0 197.6,451.2 198.1,452.7 198.7,445.3 199.2,449.2 199.8,446.8 200.3,450.0 200.9,447.2 201.4,451.3 202.0,448.5 202.5,446.2 203.1,448.3 203.7,450.2 204.2,452.6 204.8,447.8 205.3,447.1 205.9,449.4 206.4,451.4 207.0,446.3 207.5,438.9 208.1,449.6 208.6,447.1 209.2,447.0 209.7,454.7 210.3,448.0 210.8,451.2 211.4,443.1 211.9,449.4 212.5,451.4 213.1,449.3 213.6,447.8 214.2,450.6 214.7,448.6 215.3,453.7 215.8,449.3 216.4,445.4 216.9,440.7 217.5,445.5 218.0,447.1 218.6,443.5 219.1,444.0 219.7,441.4 220.2,443.6 220.8,448.1 221.3,446.6 221.9,446.8 222.5,446.3 223.0,446.6 223.6,450.3 224.1,454.7 224.7,449.7 225.2,454.7 225.8,446.7 226.3,446.8 226.9,453.2 227.4,444.0 228.0,443.3 228.5,446.1 229.1,440.0 229.6,439.1 230.2,450.9 230.8,442.2 231.3,444.4 231.9,444.4 232.4,442.4 233.0,448.7 233.5,448.1 234.1,449.0 234.6,448.6 235.2,446.0 235.7,451.2 236.3,449.5 236.8,443.2 237.4,445.6 237.9,443.8 238.5,452.5 239.0,448.2 239.6,447.2 240.2,444.9 240.7,447.2 241.3,441.3 241.8,445.0 242.4,444.7 242.9,444.3 243.5,440.9 244.0,445.1 244.6,437.9 245.1,440.1 245.7,440.7 246.2,440.6 246.8,438.0 247.3,435.2 247.9,434.9 248.4,436.8 249.0,433.9 249.6,436.7 250.1,431.1 250.7,436.8 251.2,446.1 251.8,430.1 252.3,435.7 252.9,441.5 253.4,436.8 254.0,439.9 254.5,425.3 255.1,432.9 255.6,443.0 256.4,432.6 256.7,437.4 257.3,425.8 257.8,440.9 258.4,447.1 259.0,435.3 259.5,437.5 260.1,438.0 260.6,447.0 261.2,433.7 261.4,427.3 261.7,445.9 262.3,430.0 262.8,439.1 263.4,423.9 263.9,433.7 264.5,436.8 265.0,430.0 265.6,432.9 266.1,438.5 266.7,431.7 267.2,437.9 267.8,444.4 268.4,424.6 268.9,436.8 269.5,438.0 270.0,433.0 270.6,442.6 271.1,441.5 271.7,437.0 272.2,437.0 272.8,433.8 273.3,428.4 273.6,436.5 273.9,431.5 274.4,430.8 275.0,439.3 275.5,432.5 276.1,438.4 276.7,428.0 277.2,431.0 277.8,433.2 278.3,440.0 278.9,432.5 279.4,436.9 280.0,429.3 280.5,433.4 281.1,436.8 281.6,427.9 282.2,428.8 282.7,435.4 283.3,426.4 283.8,418.3 284.4,433.7 284.9,431.4 285.5,435.7 286.1,434.0 286.6,432.5 287.2,424.0 287.7,424.2 288.3,433.1 288.8,423.7 289.4,432.1 289.9,430.1 290.5,419.8 291.0,430.6 291.6,420.0 292.1,431.0 292.7,438.2 293.2,425.7 293.8,434.4 294.3,433.9 294.9,447.4 295.5,427.5 296.0,428.4 296.6,428.6 297.1,427.7 297.7,424.2 298.2,433.0 298.8,428.1 299.3,436.6 299.9,434.7 300.4,427.7 301.0,431.0 301.5,439.7 302.1,431.3 302.6,434.1 303.2,437.3 303.7,431.1 304.3,435.3 304.9,441.1 305.4,438.9 306.1,424.7 306.5,441.0 307.1,432.5 307.6,430.7 308.2,430.6 308.7,439.9 309.3,435.5 309.8,433.3 310.4,430.1 310.9,437.4 311.5,440.0 312.0,429.4 312.6,429.0 313.1,432.7 313.7,437.6 314.3,432.7 314.8,434.2 315.4,430.7 315.9,441.1 316.5,434.4 317.0,435.9 317.6,440.6 318.1,434.2 318.7,435.2 319.2,437.4 319.8,433.6 320.3,442.5 320.9,435.9 321.4,433.6 322.0,434.2 322.6,430.3 323.1,441.4 323.7,442.9 324.2,434.4 324.8,433.3 325.3,425.1 325.9,432.4 326.4,439.7 327.0,431.5 327.5,439.5 328.1,442.5 328.6,422.6 329.2,433.7 329.7,431.8 330.3,432.5 330.8,426.4 331.4,433.8 332.0,429.2 332.5,440.1 333.1,441.8 333.6,428.2 334.2,427.9 334.7,432.5 335.3,433.9 335.8,434.2 336.4,438.3 336.9,427.6 337.5,431.9 338.0,432.6 338.6,433.3 339.1,430.1 339.7,432.7 340.2,431.6 340.8,440.8 341.4,432.8 341.9,424.8 342.5,437.8 343.0,436.0 343.6,431.1 344.1,430.8 344.7,432.4 345.2,443.2 345.8,433.1 346.3,441.2 346.9,439.5 347.4,433.0 348.0,437.0 348.5,431.8 349.1,420.7 349.6,432.0 350.2,432.3 350.8,440.1 351.3,439.0 351.9,441.0 352.4,438.6 353.0,441.3 353.5,439.3 354.1,437.3 354.6,441.1 355.2,443.1 355.7,442.9 356.3,434.4 356.8,436.3 357.4,431.9 357.9,431.8 358.5,438.4 359.0,433.8 359.6,443.7 360.2,426.3 360.7,431.5 361.3,438.2 361.8,442.7 362.4,435.5 362.9,446.2 363.5,441.1 364.0,434.0 364.6,437.3 365.1,440.0 365.7,433.3 366.2,442.7 366.8,436.6 367.3,440.3 367.9,442.0 368.5,436.0 369.0,442.8 369.6,429.4 370.1,441.1 370.7,429.2 371.2,443.6 371.8,435.8 372.3,444.2 372.9,445.0 373.4,438.1 374.0,435.8 374.5,444.9 375.1,433.6 375.6,442.8 376.2,438.6 376.7,437.5 377.3,436.6 377.9,447.7 378.4,432.1 379.0,437.0 379.5,441.6 380.1,444.5 380.6,447.6 381.2,446.2 381.7,437.5 382.3,441.5 382.8,445.2 383.4,442.4 383.9,432.8 384.5,441.4 385.0,442.6 385.6,433.7 386.1,437.8 386.7,439.7 387.3,442.6 387.8,446.9 388.4,445.2 389.1,442.0 389.5,440.8 390.0,438.1 390.6,437.2 391.1,438.7 391.7,438.7 392.2,444.3 392.5,449.5 392.8,442.1 393.3,444.0 393.9,442.6 394.4,440.9 395.0,445.3 395.5,444.7 396.1,440.1 396.7,439.1 397.2,442.5 397.8,437.3 398.3,440.5 398.9,444.1 399.4,439.3 400.0,431.0 400.5,442.5 401.1,434.2 401.6,433.3 402.2,432.7 402.7,443.1 403.3,430.4 403.8,438.9 404.4,440.5 405.0,440.4 405.5,436.7 406.1,439.1 406.6,440.1 407.2,433.6 407.7,442.5 408.3,444.0 408.8,435.7 409.4,436.1 409.9,434.4 410.5,444.0 411.0,434.5 411.6,437.2 412.1,431.6 412.7,445.1 413.2,438.6 413.8,440.9 414.4,446.7 414.9,442.9 415.5,434.8 416.0,442.0 416.6,443.1 417.1,436.2 417.7,435.7 418.2,435.8 418.8,443.7 419.3,440.5 419.9,435.8 420.4,443.3 421.0,443.7 421.5,436.8 422.1,433.7 422.6,445.7 423.2,452.1 423.8,447.1 424.3,445.2 424.9,441.5 425.4,438.2 426.0,441.6 426.5,444.1 427.1,440.4 427.6,445.4 428.2,441.5 428.7,444.1 429.3,429.7 429.8,437.9 430.4,445.2 430.9,445.9 431.5,443.6 432.0,448.9 432.6,445.0 433.2,445.1 433.7,438.1 434.3,443.8 434.8,445.5 435.4,447.9 435.9,447.3 436.5,442.5 437.0,443.3 437.6,437.5 438.1,445.2 438.7,437.9 439.2,441.5 439.8,442.7 440.3,451.4 440.9,448.3 441.4,439.7 442.0,436.9 442.6,442.1 443.1,439.8 443.7,444.8 444.2,444.7 444.8,445.9 445.3,438.8 445.9,441.5 446.4,444.0 447.0,444.3 447.5,440.5 448.1,441.5 448.6,446.4 449.2,435.4 449.7,441.7 450.3,442.7 450.9,436.4 451.4,438.3 452.0,443.1 452.5,440.3 453.1,447.2 453.6,445.3 454.2,452.3 454.7,437.3 455.3,450.7 455.8,439.6 456.4,425.8 456.9,446.6 457.5,443.2 458.0,441.2 458.6,439.7 459.1,434.7 459.7,440.7 460.3,438.5 460.8,444.8 461.4,439.1 461.9,441.5 462.5,444.1 463.0,442.5 463.6,442.4 464.1,441.2 464.7,440.3 465.2,444.2 465.8,445.2 466.3,438.7 466.9,449.2 467.4,444.6 468.0,435.2 468.5,453.5 469.1,444.8 469.7,438.8 470.2,448.9 470.8,430.7 471.3,453.1 471.9,435.9 472.4,435.4 473.0,438.3 473.5,443.3 474.1,440.9 474.6,446.4 475.2,439.1 475.7,447.5 476.3,444.0 476.8,438.6 477.4,447.8 477.9,444.6 478.5,442.5 479.1,449.0 479.6,438.4 480.2,442.0 480.7,450.1 481.3,443.8 481.8,447.1 482.4,446.6 482.9,443.6 483.5,447.1 484.0,440.0 484.6,447.2 485.1,440.1 485.7,444.6 486.2,440.8 486.8,446.9 487.3,446.8 487.9,449.7 488.5,442.3 489.0,440.8 489.6,435.7 490.1,439.3 490.7,443.8 491.2,445.8 491.8,443.3 492.3,445.1 492.9,438.7 493.4,441.0 494.0,448.6 494.5,448.0 495.1,439.2 495.6,443.8 496.2,446.2 496.8,440.1 497.3,446.9 497.9,446.4 498.4,447.3 499.0,453.7 499.5,441.6 500.1,450.6 500.6,447.8 501.2,448.6 501.7,442.3 502.3,445.8 502.8,445.4 503.4,452.7 503.9,445.9 504.5,451.9 505.0,444.3 505.6,444.0 506.2,445.6 506.7,436.8 507.3,443.2 507.8,442.9 508.4,444.8 508.9,446.2 509.5,441.2 510.0,440.6 510.6,450.9 511.1,440.7 511.7,443.0 512.2,441.1 512.8,443.2 513.3,450.5 513.9,450.2 514.4,437.2 515.0,444.0 515.6,451.1 516.1,443.5 516.7,446.5 517.2,452.9 517.8,454.7 518.3,451.8 518.9,443.7 519.4,445.0 520.0,445.8 520.5,443.5 521.1,442.1 521.6,453.7 522.2,445.9 522.7,448.2 523.3,449.9 523.8,446.9 524.4,445.0 525.0,445.6 525.5,450.7 526.1,446.5 526.6,435.7 527.2,448.9 527.7,451.6 528.3,443.1 528.8,441.7 529.4,442.2 529.9,449.0 530.5,439.9 531.0,447.5 531.6,449.0 532.1,446.8 532.7,444.7 533.2,441.1 533.8,441.5 534.4,444.3 534.9,440.3 535.5,443.9 536.0,440.5 536.6,450.4 537.1,451.1 537.7,441.0 538.2,450.4 538.8,445.7 539.3,444.8 539.9,446.5 540.4,446.4 541.0,438.5 541.5,454.7 542.1,440.7 542.7,434.7 543.2,444.4 543.8,444.6 544.3,441.5 544.9,436.7 545.4,449.7 546.0,444.3 546.5,445.5 547.1,442.3 547.6,444.0 548.2,441.9 548.7,446.5 549.3,444.5 549.8,447.6 550.4,447.6 550.9,445.4 551.5,445.4 552.1,449.8 552.6,438.1 553.2,445.4 553.7,450.8 554.3,440.1 554.8,448.1 555.4,442.7 555.9,444.9 556.5,443.8 557.0,444.1 557.6,447.4 558.1,444.7 558.7,436.2 559.2,454.5 559.8,444.6 560.3,443.1 560.9,449.5 561.5,450.8 562.0,435.7 562.6,446.6 563.1,436.1 563.7,442.7 564.2,444.7 564.8,443.0 565.3,442.3 565.9,440.0 566.4,443.2 567.0,444.4 567.5,444.3 568.1,439.3 568.6,441.6 569.2,449.4 569.7,447.8 570.3,443.7 570.9,447.8 571.4,446.8 572.0,449.3 572.5,446.3 573.1,443.3 573.6,440.9 574.2,445.1 574.7,436.3 575.3,445.5 575.8,431.5 576.4,440.9 576.9,443.1 577.5,447.4 578.0,454.7 578.6,445.9 579.2,444.5 579.7,437.0 580.3,451.2 580.8,437.1 581.4,446.4 581.9,442.2 582.5,454.7 583.0,444.7 583.6,446.8 584.1,442.4 584.7,444.9 585.2,450.2 585.8,441.3 586.3,442.4 586.9,442.8 587.4,441.0 588.0,440.6 588.6,445.4 589.1,451.2 589.7,451.3 590.2,439.6 590.8,442.3 591.3,444.9 591.9,447.2 592.4,445.2 593.0,445.3 593.5,446.8 594.1,448.4 594.6,436.1 595.2,444.4 595.7,448.0 596.3,451.0 596.8,448.5 597.4,442.3 598.0,442.1 598.5,446.3 599.1,445.2 599.6,446.7 600.2,450.2 600.7,439.8 601.3,443.8 601.8,434.8 602.4,448.7 602.9,446.0 603.5,441.6 604.0,446.5 604.6,451.4 605.1,449.5 605.7,445.0 606.2,444.0 606.8,445.8 607.4,441.1 607.9,441.2 608.5,444.1 609.0,445.3 609.6,446.5 610.1,443.1 610.7,441.5 611.2,445.2 611.8,443.5 612.3,446.9 612.9,451.5 613.4,449.8 614.0,442.2 614.5,443.6 615.1,438.6 615.6,445.2 616.2,441.8 616.8,439.8 617.3,441.2 617.9,448.1 618.4,446.3 619.0,444.9 619.5,449.7 620.1,443.5 620.6,441.1 621.2,447.6 621.7,437.0 622.3,446.8 622.8,446.4 623.4,446.5 623.9,448.6 624.5,443.7 625.1,445.4 625.6,438.4 626.2,442.9 626.7,443.2 627.3,446.5 627.8,451.6 628.4,445.9 628.9,449.2 629.5,441.5 630.0,445.7 630.6,438.4 631.1,442.4 631.7,442.0 632.2,444.6 632.8,444.7 633.3,442.8 633.9,441.6 634.5,448.6 635.0,443.5 635.6,434.3 636.1,446.0 636.7,446.7 637.2,448.6 637.8,451.8 638.3,440.5 638.9,445.3 639.4,444.3 640.0,437.7 640.5,434.8 641.1,449.4 641.6,441.1 642.2,442.9 642.7,443.9 643.3,443.6 643.9,445.7 644.4,438.8 645.0,443.0 645.5,444.1 646.1,440.3 646.6,441.8 647.2,443.6 647.7,444.2 648.3,438.1 648.8,443.4 649.4,446.0 649.9,449.3 650.5,447.1 651.0,450.2 651.6,445.2 652.1,444.5 652.7,454.5 653.3,445.6 653.8,442.9 654.4,444.9 654.9,449.8 655.5,440.2 656.0,448.7 656.6,451.0 657.1,450.3 657.7,445.7 658.2,441.5 658.8,440.7 659.3,444.8 659.9,450.8 660.4,448.5 661.0,449.6 661.5,446.5 662.1,453.3 662.7,445.2 663.2,442.9 663.8,446.4 664.3,443.7 664.9,449.8 665.4,452.0 666.0,448.5 666.5,440.8 667.1,441.3 667.6,447.7 668.2,440.6 668.7,447.1 669.3,439.2 669.8,443.7 670.4,447.7 671.0,442.3 671.5,449.1 672.1,449.8 672.6,452.0 673.2,444.7 673.7,446.0" fill="none" stroke="#ff00ff" stroke-width="2.0" stroke-linejoin="miter" stroke-miterlimit="2"/>
<rect x="553.2" y="403.2" width="104.2" height="27.0" fill="#ffff80"/>
<text transform="translate(605.3,424.2) scale(1,1.05)" font-size="19.5" text-anchor="middle" fill="#000" stroke="#000">Xc = 6.41 %</text>
<rect x="516.9" y="322.0" width="143.1" height="23.6" fill="#fff" stroke="#606060" stroke-width="1.4"/>
<line x1="518.4" y1="333.6" x2="557.9" y2="333.6" stroke="#ff00ff" stroke-opacity="0.8" stroke-width="2"/>
<text transform="translate(657.4,339.6) scale(1,1.05)" font-size="16.6" text-anchor="end" fill="#000" stroke="#000">CGNHSCN32</text>
<line x1="514.9" y1="322.0" x2="662" y2="322.0" stroke="#000" stroke-width="2.9"/>
<rect x="74.8" y="478.6" width="599.1" height="133.4" fill="none" stroke="#000" stroke-width="2.9"/>
<line x1="63.2" y1="612.00" x2="74.8" y2="612.00" stroke="#000" stroke-width="2.9"/>
<text transform="translate(55.4,618.0) scale(1,1.05)" font-size="19.8" text-anchor="end" fill="#000" stroke="#000">0</text>
<line x1="63.2" y1="567.53" x2="74.8" y2="567.53" stroke="#000" stroke-width="2.9"/>
<text transform="translate(55.4,573.5) scale(1,1.05)" font-size="19.8" text-anchor="end" fill="#000" stroke="#000">30</text>
<line x1="63.2" y1="523.07" x2="74.8" y2="523.07" stroke="#000" stroke-width="2.9"/>
<text transform="translate(55.4,529.1) scale(1,1.05)" font-size="19.8" text-anchor="end" fill="#000" stroke="#000">60</text>
<line x1="63.2" y1="478.60" x2="74.8" y2="478.60" stroke="#000" stroke-width="2.9"/>
<text transform="translate(55.4,484.6) scale(1,1.05)" font-size="19.8" text-anchor="end" fill="#000" stroke="#000">90</text>
<text transform="translate(25.3,545.6) rotate(-90)" font-size="19.7" text-anchor="middle" fill="#000" stroke="#000">Intensity (a.u.)</text>
<polyline points="74.8,603.1 75.4,604.4 75.9,597.2 76.5,604.5 77.0,605.6 77.6,598.0 78.1,597.3 78.7,601.5 79.2,609.6 79.8,605.2 80.3,600.4 80.9,602.7 81.4,596.7 82.0,608.2 82.5,600.1 83.1,605.3 83.6,597.6 84.2,603.1 84.8,598.7 85.3,605.4 85.9,608.4 86.4,607.3 87.0,605.2 87.5,606.9 88.1,598.0 88.6,597.4 89.2,601.7 89.7,607.0 90.3,603.3 90.8,605.6 91.4,596.9 91.9,601.5 92.5,600.8 93.0,604.4 93.6,611.0 94.2,606.0 94.7,607.4 95.3,601.3 95.8,602.4 96.4,606.1 96.9,604.4 97.5,596.3 98.0,606.8 98.6,606.6 99.1,603.8 99.7,605.7 100.2,604.6 100.8,600.6 101.3,595.5 101.9,610.3 102.5,602.9 103.0,602.6 103.6,603.2 104.1,603.6 104.7,604.3 105.2,598.5 105.8,604.8 106.3,603.4 106.9,602.8 107.4,602.4 108.0,603.5 108.5,598.5 109.1,602.8 109.6,602.1 110.2,603.0 110.7,607.1 111.3,606.4 111.9,607.4 112.4,602.0 113.0,605.9 113.5,607.4 114.1,601.8 114.6,600.5 115.2,610.5 115.7,595.2 116.3,602.1 116.8,602.4 117.4,596.9 117.9,601.0 118.5,603.6 119.0,591.0 119.6,605.1 120.1,600.4 120.7,595.9 121.3,604.1 121.8,599.5 122.4,597.0 122.9,587.6 123.5,602.1 124.0,598.0 124.6,594.4 125.1,596.7 125.7,602.3 126.2,594.6 126.8,595.6 127.3,593.8 127.9,590.2 128.4,590.4 129.0,592.9 129.5,593.1 130.1,599.4 130.7,594.7 131.2,592.8 131.8,595.7 132.3,593.1 132.9,597.4 133.4,585.8 134.0,582.6 134.5,594.8 135.1,590.8 135.6,593.7 136.2,586.2 136.7,590.1 137.3,591.7 137.8,593.1 138.4,591.2 138.9,596.7 139.5,588.1 140.1,594.9 140.6,588.3 141.2,590.0 141.7,584.7 142.3,590.1 142.8,584.4 143.4,594.1 143.9,585.8 144.5,589.8 145.0,587.3 145.6,587.6 146.1,582.7 146.7,597.9 147.2,585.2 147.8,594.5 148.4,579.8 148.9,596.4 149.5,590.9 150.0,594.2 150.6,576.0 151.1,574.9 151.7,583.6 152.2,586.8 152.8,593.8 153.3,586.0 153.9,580.7 154.4,585.5 155.0,579.4 155.5,586.8 156.1,584.9 156.6,587.3 157.2,583.4 157.8,574.8 158.3,583.6 158.9,584.7 159.4,589.5 160.0,590.4 160.5,577.9 161.1,592.8 161.6,591.8 162.2,587.3 162.7,589.3 163.3,575.5 163.8,600.7 164.4,584.9 164.9,582.9 165.5,593.7 166.0,591.0 166.6,584.7 167.2,577.6 167.7,592.8 168.3,596.8 168.8,581.6 169.4,578.3 169.9,589.5 170.5,600.8 171.0,578.5 171.6,588.4 172.1,580.2 172.7,587.3 173.2,589.2 173.8,589.6 174.3,577.6 174.9,577.7 175.4,599.9 176.0,592.3 176.6,575.2 177.1,588.6 177.7,594.8 178.2,586.0 178.5,586.7 178.8,586.6 179.3,588.9 179.9,587.8 180.4,588.4 181.0,583.1 181.5,590.2 182.1,586.6 182.6,585.3 183.2,575.6 183.7,581.4 184.3,584.3 184.9,579.8 185.4,580.3 186.0,575.5 186.5,579.1 187.1,570.2 187.6,572.9 188.2,582.0 188.7,584.2 189.3,575.1 189.8,577.3 190.4,581.2 190.9,590.4 191.5,592.6 192.0,577.4 192.6,574.2 193.1,573.7 193.7,587.9 194.3,571.4 194.8,582.1 195.4,575.2 195.9,574.6 196.5,582.8 197.0,580.9 197.6,591.1 198.1,582.4 198.7,588.4 199.2,572.0 199.8,574.2 200.3,567.7 200.9,571.3 201.4,578.1 202.0,570.5 202.5,575.5 203.1,567.8 203.7,569.5 204.2,578.7 204.8,571.0 205.3,570.2 205.9,572.5 206.4,563.1 207.0,556.6 207.5,571.7 208.1,571.2 208.6,585.2 209.2,569.0 209.7,571.2 210.3,584.2 210.8,565.4 211.4,562.9 211.9,572.9 212.5,570.0 213.1,574.4 213.6,560.9 214.2,578.3 214.7,568.9 215.3,551.1 215.8,565.7 216.4,562.3 216.9,566.9 217.5,574.8 218.0,565.7 218.6,562.1 219.1,573.2 219.7,562.3 220.2,555.0 220.8,556.2 221.3,577.1 221.9,572.1 222.5,577.0 223.0,555.5 223.6,558.9 224.1,557.8 224.7,570.1 225.2,572.1 225.8,561.8 226.3,561.3 226.9,568.7 227.4,560.3 228.0,555.9 228.5,559.0 229.1,568.9 229.6,577.4 230.2,561.9 230.8,558.1 231.3,561.3 231.9,562.4 232.4,564.2 233.0,552.3 233.5,558.3 234.1,556.5 234.6,565.2 235.2,562.0 235.7,555.2 236.3,564.6 236.8,566.4 237.4,558.3 237.9,545.2 238.5,553.3 239.0,542.3 239.6,555.3 240.2,556.5 240.7,565.3 241.3,558.1 241.8,540.7 242.4,549.8 242.9,546.0 243.5,545.9 244.0,551.6 244.6,553.0 245.1,549.9 245.7,544.8 246.2,546.3 246.8,545.7 247.3,548.2 247.9,555.9 248.4,551.2 249.0,556.7 249.6,539.5 250.1,566.2 250.7,549.5 251.2,526.4 251.8,549.9 252.3,556.5 252.9,546.3 253.4,534.4 254.0,546.7 254.5,539.4 255.1,543.4 255.6,547.2 256.4,521.6 256.7,542.3 257.3,547.2 257.8,546.4 258.4,538.1 259.0,537.4 259.5,533.7 260.1,538.9 260.6,552.5 261.2,534.6 261.4,513.4 261.7,542.1 262.3,553.0 262.8,544.9 263.4,546.4 263.9,540.3 264.5,553.3 265.0,539.9 265.6,539.6 266.1,551.3 266.7,547.2 267.2,549.7 267.8,533.8 268.4,565.8 268.9,546.1 269.5,558.5 270.0,547.6 270.6,536.3 271.1,550.1 271.7,543.5 272.2,552.8 272.8,527.8 273.3,537.5 273.6,535.8 273.9,558.2 274.4,556.5 275.0,537.1 275.5,549.0 276.1,549.9 276.7,544.9 277.2,559.5 277.8,541.6 278.3,548.7 278.9,544.9 279.4,555.6 280.0,545.3 280.5,556.5 281.1,542.1 281.6,540.8 282.2,543.1 282.7,547.0 283.3,546.3 283.8,576.2 284.4,545.2 284.9,555.3 285.5,552.4 286.1,556.1 286.6,566.1 287.2,559.0 287.7,548.8 288.3,542.5 288.8,560.7 289.4,563.5 289.9,543.2 290.5,563.9 291.0,538.5 291.6,556.5 292.1,564.9 292.7,549.1 293.2,543.3 293.8,570.7 294.3,545.1 294.9,561.4 295.5,546.5 296.0,562.9 296.6,573.5 297.1,556.0 297.7,552.7 298.2,543.1 298.8,546.6 299.3,555.7 299.9,564.0 300.4,566.7 301.0,565.2 301.5,570.0 302.1,565.7 302.6,585.2 303.2,562.5 303.7,564.5 304.3,542.8 304.9,558.2 305.4,568.8 306.1,560.2 306.5,575.3 307.1,570.3 307.6,581.0 308.2,553.6 308.7,560.8 309.3,575.7 309.8,566.6 310.4,558.4 310.9,562.3 311.5,563.4 312.0,573.8 312.6,572.2 313.1,566.3 313.7,559.7 314.3,574.2 314.8,576.8 315.4,558.4 315.9,575.5 316.5,559.3 317.0,566.3 317.6,561.2 318.1,554.4 318.7,563.3 319.2,562.8 319.8,576.8 320.3,575.3 320.9,564.7 321.4,557.9 322.0,559.3 322.6,552.2 323.1,568.5 323.7,569.7 324.2,563.5 324.8,571.7 325.3,572.6 325.9,580.7 326.4,564.8 327.0,581.4 327.5,569.1 328.1,584.7 328.6,565.1 329.2,582.1 329.7,567.6 330.3,587.1 330.8,578.3 331.4,565.9 332.0,581.7 332.5,575.1 333.1,579.6 333.6,593.9 334.2,573.6 334.7,572.7 335.3,584.7 335.8,571.7 336.4,582.3 336.9,584.0 337.5,576.2 338.0,581.6 338.6,558.8 339.1,588.4 339.7,570.9 340.2,569.0 340.8,591.7 341.4,589.9 341.9,572.5 342.5,580.5 343.0,573.9 343.6,568.3 344.1,579.8 344.7,585.1 345.2,597.7 345.8,575.6 346.3,584.2 346.9,574.9 347.4,575.6 348.0,587.6 348.5,564.4 349.1,569.1 349.6,570.9 350.2,585.9 350.8,580.1 351.3,581.1 351.9,580.1 352.4,585.3 353.0,573.7 353.5,575.2 354.1,574.2 354.6,580.6 355.2,567.3 355.7,575.4 356.3,596.8 356.8,581.4 357.4,577.1 357.9,569.5 358.5,578.8 359.0,578.4 359.6,581.3 360.2,571.6 360.7,579.7 361.3,580.9 361.8,582.0 362.4,572.6 362.9,580.6 363.5,588.9 364.0,572.4 364.6,582.0 365.1,574.4 365.7,574.4 366.2,568.5 366.8,569.7 367.3,581.4 367.9,578.5 368.5,586.6 369.0,565.5 369.6,574.4 370.1,567.6 370.7,579.9 371.2,592.3 371.8,566.9 372.3,577.2 372.9,577.0 373.4,577.6 374.0,573.5 374.5,574.4 375.1,589.4 375.6,570.6 376.2,582.0 376.7,581.7 377.3,566.3 377.9,572.1 378.4,581.0 379.0,591.6 379.5,577.6 380.1,575.0 380.6,579.3 381.2,587.5 381.7,584.3 382.3,587.6 382.8,577.4 383.4,573.3 383.9,571.9 384.5,584.1 385.0,577.4 385.6,575.3 386.1,582.7 386.7,580.2 387.3,564.6 387.8,577.8 388.4,573.2 389.1,582.3 389.5,579.1 390.0,591.1 390.6,584.3 391.1,580.8 391.7,576.9 392.2,583.0 392.5,586.4 392.8,590.7 393.3,595.0 393.9,591.9 394.4,586.6 395.0,595.9 395.5,584.3 396.1,597.1 396.7,602.3 397.2,597.1 397.8,601.4 398.3,599.3 398.9,582.4 399.4,591.2 400.0,588.3 400.5,581.7 401.1,580.6 401.6,591.9 402.2,579.2 402.7,585.0 403.3,587.1 403.8,583.7 404.4,595.6 405.0,590.8 405.5,585.9 406.1,580.7 406.6,586.7 407.2,584.6 407.7,576.9 408.3,573.6 408.8,577.6 409.4,574.4 409.9,585.3 410.5,584.7 411.0,580.6 411.6,584.6 412.1,585.9 412.7,571.9 413.2,584.0 413.8,588.9 414.4,579.5 414.9,570.8 415.5,582.1 416.0,574.7 416.6,585.5 417.1,585.8 417.7,587.1 418.2,583.6 418.8,570.9 419.3,590.0 419.9,572.2 420.4,589.1 421.0,584.1 421.5,577.3 422.1,578.7 422.6,580.9 423.2,593.1 423.8,580.4 424.3,589.1 424.9,566.4 425.4,584.0 426.0,581.5 426.5,589.9 427.1,585.7 427.6,590.7 428.2,576.5 428.7,584.3 429.3,579.1 429.8,586.9 430.4,585.8 430.9,574.8 431.5,589.1 432.0,594.5 432.6,581.1 433.2,590.9 433.7,586.8 434.3,578.7 434.8,589.6 435.4,579.4 435.9,589.2 436.5,576.2 437.0,577.4 437.6,588.7 438.1,587.4 438.7,591.4 439.2,585.3 439.8,579.8 440.3,595.7 440.9,581.4 441.4,595.0 442.0,592.3 442.6,598.0 443.1,574.5 443.7,586.9 444.2,585.9 444.8,591.5 445.3,581.1 445.9,600.2 446.4,587.5 447.0,574.5 447.5,590.1 448.1,587.8 448.6,583.9 449.2,592.8 449.7,587.9 450.3,582.5 450.9,587.1 451.4,586.1 452.0,590.4 452.5,586.6 453.1,588.2 453.6,580.0 454.2,584.4 454.7,590.1 455.3,603.1 455.8,584.7 456.4,584.5 456.9,594.3 457.5,600.7 458.0,595.8 458.6,583.8 459.1,595.4 459.7,592.0 460.3,588.1 460.8,582.4 461.4,589.7 461.9,590.2 462.5,592.9 463.0,580.4 463.6,583.7 464.1,590.5 464.7,598.0 465.2,594.6 465.8,586.8 466.3,594.3 466.9,585.2 467.4,588.3 468.0,588.8 468.5,586.8 469.1,587.7 469.7,595.4 470.2,592.5 470.8,577.6 471.3,597.6 471.9,593.6 472.4,585.0 473.0,591.9 473.5,595.6 474.1,598.6 474.6,588.3 475.2,585.7 475.7,583.6 476.3,591.2 476.8,585.8 477.4,597.3 477.9,590.8 478.5,595.5 479.1,590.9 479.6,587.8 480.2,586.1 480.7,597.4 481.3,585.2 481.8,594.8 482.4,597.8 482.9,593.2 483.5,600.3 484.0,592.4 484.6,590.9 485.1,593.7 485.7,589.8 486.2,594.4 486.8,592.8 487.3,600.6 487.9,592.7 488.5,597.5 489.0,595.5 489.6,593.6 490.1,592.2 490.7,602.0 491.2,601.7 491.8,595.0 492.3,590.9 492.9,591.6 493.4,588.8 494.0,586.7 494.5,591.1 495.1,593.9 495.6,599.4 496.2,598.9 496.8,596.4 497.3,592.5 497.9,592.8 498.4,594.0 499.0,594.8 499.5,590.7 500.1,592.9 500.6,592.5 501.2,592.5 501.7,597.0 502.3,599.6 502.8,591.5 503.4,592.0 503.9,595.3 504.5,596.4 505.0,582.2 505.6,598.2 506.2,595.4 506.7,592.9 507.3,600.4 507.8,593.7 508.4,584.9 508.9,589.4 509.5,591.0 510.0,591.3 510.6,593.8 511.1,589.4 511.7,595.3 512.2,596.7 512.8,593.9 513.3,589.7 513.9,592.8 514.4,591.0 515.0,605.1 515.6,588.3 516.1,582.3 516.7,587.6 517.2,596.3 517.8,599.1 518.3,593.2 518.9,599.8 519.4,590.9 520.0,597.4 520.5,589.7 521.1,587.6 521.6,605.3 522.2,593.3 522.7,598.4 523.3,602.1 523.8,598.0 524.4,596.0 525.0,589.5 525.5,602.8 526.1,589.5 526.6,584.5 527.2,591.8 527.7,592.1 528.3,595.0 528.8,601.1 529.4,592.2 529.9,593.0 530.5,591.3 531.0,581.8 531.6,591.3 532.1,592.9 532.7,587.1 533.2,602.1 533.8,601.1 534.4,597.1 534.9,598.6 535.5,591.6 536.0,596.9 536.6,586.3 537.1,587.4 537.7,591.3 538.2,597.3 538.8,592.2 539.3,591.2 539.9,600.8 540.4,593.6 541.0,591.8 541.5,594.3 542.1,587.4 542.7,589.2 543.2,599.7 543.8,594.9 544.3,599.8 544.9,592.6 545.4,600.0 546.0,590.8 546.5,593.6 547.1,590.6 547.6,596.4 548.2,603.1 548.7,586.7 549.3,596.6 549.8,588.7 550.4,593.5 550.9,592.3 551.5,586.4 552.1,594.0 552.6,588.7 553.2,603.3 553.7,591.4 554.3,597.1 554.8,596.5 555.4,595.8 555.9,594.1 556.5,587.5 557.0,605.3 557.6,595.7 558.1,599.6 558.7,590.1 559.2,598.1 559.8,593.7 560.3,598.0 560.9,592.7 561.5,591.0 562.0,598.1 562.6,595.9 563.1,603.3 563.7,594.6 564.2,591.9 564.8,599.0 565.3,590.6 565.9,606.6 566.4,605.5 567.0,603.2 567.5,598.7 568.1,596.2 568.6,596.7 569.2,596.7 569.7,592.7 570.3,598.7 570.9,602.7 571.4,602.6 572.0,585.8 572.5,608.2 573.1,597.3 573.6,589.2 574.2,594.0 574.7,600.6 575.3,596.5 575.8,592.2 576.4,590.5 576.9,601.0 577.5,592.7 578.0,595.3 578.6,591.0 579.2,589.6 579.7,598.2 580.3,603.7 580.8,594.6 581.4,587.7 581.9,593.2 582.5,595.4 583.0,584.7 583.6,601.7 584.1,592.1 584.7,599.4 585.2,596.4 585.8,596.2 586.3,589.1 586.9,601.3 587.4,599.3 588.0,604.5 588.6,594.2 589.1,598.9 589.7,594.6 590.2,602.0 590.8,598.4 591.3,591.6 591.9,597.5 592.4,593.6 593.0,594.1 593.5,598.5 594.1,604.4 594.6,591.9 595.2,595.9 595.7,591.9 596.3,606.6 596.8,604.9 597.4,607.3 598.0,601.1 598.5,591.7 599.1,594.0 599.6,597.0 600.2,596.2 600.7,593.1 601.3,598.3 601.8,594.9 602.4,596.1 602.9,607.5 603.5,598.7 604.0,590.2 604.6,598.8 605.1,597.6 605.7,599.8 606.2,599.2 606.8,591.4 607.4,598.2 607.9,601.9 608.5,611.3 609.0,599.7 609.6,606.5 610.1,605.8 610.7,593.1 611.2,593.5 611.8,606.2 612.3,592.8 612.9,594.7 613.4,600.8 614.0,593.4 614.5,604.9 615.1,602.8 615.6,604.0 616.2,602.4 616.8,592.8 617.3,603.5 617.9,602.6 618.4,601.6 619.0,596.1 619.5,598.7 620.1,592.9 620.6,600.5 621.2,603.3 621.7,599.5 622.3,596.9 622.8,601.6 623.4,595.8 623.9,588.4 624.5,599.9 625.1,597.0 625.6,590.7 626.2,600.3 626.7,601.3 627.3,602.4 627.8,595.3 628.4,594.8 628.9,598.0 629.5,597.1 630.0,591.2 630.6,593.1 631.1,604.0 631.7,597.4 632.2,596.8 632.8,593.9 633.3,598.4 633.9,600.4 634.5,599.5 635.0,605.8 635.6,597.5 636.1,600.2 636.7,595.2 637.2,602.3 637.8,599.5 638.3,602.1 638.9,602.5 639.4,594.2 640.0,599.7 640.5,595.4 641.1,602.8 641.6,597.1 642.2,605.5 642.7,599.8 643.3,599.9 643.9,594.8 644.4,596.7 645.0,598.4 645.5,593.6 646.1,596.7 646.6,595.1 647.2,594.0 647.7,597.9 648.3,599.0 648.8,596.1 649.4,599.6 649.9,595.8 650.5,592.5 651.0,593.7 651.6,599.5 652.1,603.7 652.7,598.0 653.3,598.3 653.8,592.6 654.4,599.5 654.9,598.7 655.5,594.3 656.0,600.0 656.6,598.5 657.1,589.8 657.7,590.8 658.2,594.9 658.8,596.5 659.3,602.3 659.9,595.2 660.4,597.5 661.0,596.8 661.5,600.2 662.1,597.9 662.7,598.7 663.2,596.4 663.8,591.2 664.3,596.2 664.9,605.5 665.4,602.4 666.0,605.2 666.5,601.6 667.1,595.3 667.6,596.1 668.2,600.7 668.7,596.7 669.3,601.4 669.8,604.5 670.4,604.4 671.0,601.9 671.5,591.4 672.1,604.1 672.6,592.3 673.2,591.9 673.7,598.8" fill="none" stroke="#0000ff" stroke-width="2.0" stroke-linejoin="miter" stroke-miterlimit="2"/>
<rect x="549.0" y="553.6" width="104.0" height="27.2" fill="#ffff80"/>
<text transform="translate(601.0,574.8) scale(1,1.05)" font-size="19.5" text-anchor="middle" fill="#000" stroke="#000">Xc = 7.28 %</text>
<rect x="516.9" y="478.6" width="143.1" height="23.6" fill="#fff" stroke="#606060" stroke-width="1.4"/>
<line x1="518.4" y1="490.2" x2="557.9" y2="490.2" stroke="#0000ff" stroke-opacity="0.8" stroke-width="2"/>
<text transform="translate(657.4,496.2) scale(1,1.05)" font-size="16.6" text-anchor="end" fill="#000" stroke="#000">CGNHSCN24</text>
<line x1="514.9" y1="478.6" x2="662" y2="478.6" stroke="#000" stroke-width="2.9"/>
<rect x="74.8" y="635.1" width="599.1" height="133.4" fill="none" stroke="#000" stroke-width="2.9"/>
<line x1="63.2" y1="768.50" x2="74.8" y2="768.50" stroke="#000" stroke-width="2.9"/>
<text transform="translate(55.4,774.5) scale(1,1.05)" font-size="19.8" text-anchor="end" fill="#000" stroke="#000">0</text>
<line x1="63.2" y1="724.03" x2="74.8" y2="724.03" stroke="#000" stroke-width="2.9"/>
<text transform="translate(55.4,730.0) scale(1,1.05)" font-size="19.8" text-anchor="end" fill="#000" stroke="#000">30</text>
<line x1="63.2" y1="679.57" x2="74.8" y2="679.57" stroke="#000" stroke-width="2.9"/>
<text transform="translate(55.4,685.6) scale(1,1.05)" font-size="19.8" text-anchor="end" fill="#000" stroke="#000">60</text>
<line x1="63.2" y1="635.10" x2="74.8" y2="635.10" stroke="#000" stroke-width="2.9"/>
<text transform="translate(55.4,641.1) scale(1,1.05)" font-size="19.8" text-anchor="end" fill="#000" stroke="#000">90</text>
<text transform="translate(25.3,702.1) rotate(-90)" font-size="19.7" text-anchor="middle" fill="#000" stroke="#000">Intensity (a.u.)</text>
<polyline points="74.8,754.9 75.4,757.6 75.9,767.0 76.5,751.2 77.0,754.4 77.6,749.5 78.1,748.5 78.7,752.5 79.2,752.6 79.8,754.4 80.3,752.3 80.9,759.5 81.4,751.9 82.0,752.9 82.5,758.1 83.1,743.0 83.6,758.6 84.2,758.0 84.8,752.2 85.3,763.3 85.9,757.4 86.4,761.1 87.0,758.2 87.5,754.1 88.1,751.9 88.6,747.9 89.2,749.5 89.7,747.6 90.3,750.7 90.8,756.1 91.4,748.1 91.9,756.3 92.5,757.0 93.0,746.1 93.6,749.9 94.2,752.9 94.7,750.2 95.3,749.6 95.8,761.2 96.4,754.7 96.9,760.4 97.5,753.7 98.0,757.9 98.6,747.4 99.1,751.8 99.7,758.8 100.2,754.7 100.8,761.0 101.3,754.5 101.9,751.7 102.5,753.0 103.0,764.3 103.6,755.7 104.1,751.0 104.7,751.8 105.2,747.1 105.8,759.8 106.3,750.0 106.9,756.0 107.4,751.3 108.0,749.9 108.5,748.2 109.1,754.8 109.6,750.4 110.2,757.5 110.7,758.6 111.3,747.8 111.9,750.8 112.4,759.1 113.0,754.7 113.5,749.8 114.1,741.2 114.6,743.7 115.2,744.9 115.7,758.7 116.3,749.5 116.8,746.3 117.4,746.8 117.9,746.7 118.5,750.2 119.0,739.3 119.6,740.8 120.1,749.5 120.7,754.4 121.3,737.6 121.8,752.0 122.4,742.3 122.9,738.4 123.5,754.3 124.0,747.6 124.6,751.2 125.1,746.5 125.7,747.7 126.2,738.7 126.8,746.4 127.3,749.8 127.9,743.6 128.4,751.5 129.0,752.2 129.5,737.5 130.1,755.0 130.7,753.0 131.2,749.8 131.8,756.0 132.3,761.9 132.9,743.8 133.4,754.2 134.0,752.7 134.5,751.6 135.1,755.0 135.6,755.4 136.2,748.2 136.7,735.2 137.3,744.7 137.8,744.5 138.4,757.4 138.9,748.8 139.5,755.4 140.1,743.9 140.6,749.6 141.2,748.0 141.7,748.6 142.3,751.4 142.8,756.8 143.4,744.4 143.9,755.8 144.5,754.5 145.0,749.3 145.6,751.8 146.1,746.2 146.7,741.9 147.2,746.5 147.8,746.9 148.4,748.0 148.9,743.2 149.5,759.3 150.0,746.3 150.6,754.1 151.1,756.0 151.7,748.8 152.2,751.2 152.8,745.5 153.3,742.5 153.9,763.2 154.4,749.8 155.0,737.7 155.5,744.3 156.1,740.9 156.6,749.2 157.2,758.5 157.8,756.8 158.3,745.8 158.9,744.4 159.4,754.7 160.0,751.9 160.5,748.7 161.1,760.9 161.6,752.4 162.2,740.3 162.7,736.8 163.3,750.8 163.8,738.9 164.4,753.3 164.9,755.1 165.5,763.9 166.0,744.2 166.6,752.3 167.2,735.5 167.7,747.9 168.3,748.8 168.8,761.1 169.4,740.6 169.9,752.2 170.5,751.0 171.0,763.9 171.6,744.5 172.1,744.2 172.7,754.2 173.2,750.0 173.8,748.2 174.3,744.7 174.9,750.2 175.4,740.1 176.0,752.6 176.6,755.0 177.1,754.2 177.7,767.4 178.2,756.6 178.5,745.2 178.8,749.9 179.3,756.9 179.9,749.6 180.4,764.4 181.0,753.2 181.5,747.8 182.1,746.5 182.6,755.7 183.2,744.7 183.7,738.4 184.3,752.9 184.9,745.2 185.4,759.8 186.0,762.2 186.5,745.4 187.1,748.8 187.6,747.6 188.2,752.5 188.7,750.4 189.3,743.0 189.8,736.9 190.4,749.3 190.9,758.4 191.5,739.2 192.0,743.3 192.6,742.6 193.1,745.7 193.7,731.4 194.3,745.9 194.8,742.8 195.4,758.1 195.9,749.4 196.5,749.9 197.0,745.2 197.6,742.5 198.1,749.4 198.7,732.7 199.2,751.0 199.8,746.6 200.3,741.7 200.9,751.3 201.4,738.9 202.0,738.2 202.5,744.1 203.1,729.1 203.7,741.0 204.2,739.4 204.8,747.4 205.3,751.9 205.9,744.6 206.4,742.3 207.0,742.9 207.5,734.4 208.1,755.4 208.6,746.7 209.2,751.3 209.7,729.7 210.3,742.5 210.8,742.1 211.4,746.0 211.9,732.2 212.5,741.0 213.1,736.6 213.6,751.9 214.2,729.9 214.7,735.1 215.3,733.9 215.8,729.1 216.4,738.8 216.9,738.5 217.5,732.3 218.0,734.2 218.6,738.7 219.1,736.6 219.7,740.3 220.2,731.7 220.8,730.0 221.3,736.4 221.9,723.1 222.5,747.1 223.0,737.8 223.6,723.7 224.1,738.5 224.7,746.6 225.2,724.9 225.8,730.7 226.3,742.8 226.9,728.3 227.4,740.9 228.0,742.9 228.5,734.0 229.1,736.1 229.6,740.2 230.2,734.6 230.8,738.9 231.3,730.8 231.9,731.1 232.4,725.2 233.0,733.6 233.5,739.7 234.1,739.3 234.6,731.1 235.2,717.7 235.7,722.4 236.3,733.1 236.8,721.0 237.4,736.3 237.9,719.8 238.5,730.0 239.0,721.2 239.6,722.0 240.2,728.6 240.7,723.8 241.3,734.1 241.8,726.4 242.4,717.4 242.9,696.6 243.5,719.9 244.0,724.3 244.6,732.4 245.1,716.5 245.7,736.9 246.2,730.2 246.8,721.1 247.3,732.9 247.9,711.6 248.4,714.8 249.0,727.4 249.6,727.1 250.1,732.8 250.7,733.2 251.2,718.7 251.8,717.1 252.3,719.0 252.9,719.3 253.4,725.1 254.0,717.2 254.5,731.0 255.1,718.7 255.6,706.5 256.4,706.8 256.7,720.5 257.3,718.8 257.8,704.6 258.4,700.7 259.0,726.1 259.5,717.4 260.1,712.2 260.6,704.3 261.2,720.7 261.4,708.9 261.7,716.4 262.3,696.6 262.8,710.6 263.4,715.1 263.9,716.7 264.5,705.5 265.0,708.5 265.6,722.8 266.1,712.3 266.7,724.9 267.2,720.2 267.8,724.6 268.4,724.9 268.9,719.6 269.5,722.0 270.0,709.5 270.6,707.2 271.1,715.4 271.7,722.4 272.2,706.7 272.8,729.4 273.3,728.5 273.6,706.9 273.9,707.4 274.4,704.7 275.0,714.1 275.5,722.4 276.1,716.2 276.7,707.4 277.2,718.8 277.8,719.0 278.3,725.2 278.9,724.1 279.4,708.8 280.0,712.6 280.5,726.1 281.1,726.2 281.6,722.8 282.2,714.7 282.7,729.0 283.3,721.8 283.8,738.1 284.4,731.5 284.9,718.5 285.5,715.0 286.1,731.3 286.6,728.5 287.2,716.4 287.7,725.9 288.3,727.3 288.8,719.3 289.4,722.0 289.9,715.2 290.5,717.8 291.0,728.7 291.6,725.4 292.1,725.1 292.7,735.3 293.2,732.6 293.8,717.9 294.3,737.7 294.9,718.2 295.5,723.8 296.0,727.3 296.6,722.3 297.1,723.0 297.7,717.7 298.2,730.1 298.8,729.1 299.3,729.4 299.9,713.5 300.4,720.8 301.0,735.1 301.5,730.9 302.1,733.9 302.6,728.7 303.2,727.4 303.7,712.1 304.3,743.1 304.9,722.0 305.4,726.6 306.1,735.4 306.5,731.4 307.1,734.2 307.6,730.4 308.2,723.5 308.7,742.4 309.3,721.7 309.8,734.4 310.4,720.8 310.9,729.0 311.5,723.2 312.0,728.3 312.6,724.8 313.1,732.5 313.7,739.2 314.3,728.4 314.8,728.3 315.4,718.4 315.9,748.2 316.5,735.3 317.0,726.4 317.6,743.2 318.1,736.0 318.7,719.3 319.2,724.5 319.8,741.1 320.3,724.8 320.9,726.7 321.4,729.8 322.0,732.8 322.6,733.9 323.1,742.0 323.7,739.6 324.2,730.9 324.8,735.3 325.3,723.4 325.9,738.9 326.4,753.6 327.0,739.3 327.5,735.1 328.1,734.6 328.6,736.8 329.2,743.0 329.7,726.8 330.3,741.8 330.8,732.3 331.4,739.2 332.0,745.4 332.5,727.4 333.1,754.4 333.6,743.0 334.2,734.1 334.7,739.5 335.3,731.9 335.8,737.7 336.4,740.1 336.9,722.3 337.5,738.5 338.0,738.0 338.6,744.3 339.1,742.0 339.7,732.5 340.2,733.1 340.8,736.8 341.4,741.5 341.9,732.2 342.5,748.2 343.0,739.1 343.6,738.7 344.1,742.9 344.7,736.5 345.2,742.2 345.8,743.3 346.3,726.3 346.9,733.5 347.4,730.8 348.0,738.6 348.5,732.8 349.1,734.3 349.6,731.7 350.2,724.4 350.8,741.6 351.3,738.7 351.9,740.9 352.4,763.7 353.0,750.1 353.5,741.1 354.1,737.1 354.6,745.0 355.2,733.9 355.7,733.0 356.3,744.1 356.8,732.2 357.4,730.2 357.9,738.5 358.5,747.9 359.0,732.2 359.6,742.7 360.2,744.1 360.7,741.0 361.3,745.2 361.8,735.0 362.4,736.9 362.9,734.1 363.5,738.3 364.0,747.1 364.6,743.1 365.1,736.5 365.7,744.7 366.2,723.6 366.8,743.8 367.3,746.0 367.9,735.0 368.5,737.6 369.0,742.5 369.6,743.9 370.1,739.7 370.7,737.2 371.2,737.7 371.8,744.4 372.3,739.8 372.9,737.3 373.4,737.8 374.0,762.0 374.5,748.2 375.1,747.5 375.6,744.1 376.2,741.6 376.7,737.0 377.3,738.9 377.9,743.6 378.4,742.7 379.0,731.9 379.5,746.7 380.1,741.0 380.6,733.2 381.2,740.8 381.7,755.7 382.3,740.7 382.8,745.5 383.4,743.8 383.9,736.6 384.5,740.2 385.0,744.8 385.6,737.7 386.1,740.6 386.7,742.6 387.3,741.4 387.8,741.8 388.4,745.4 389.1,746.2 389.5,743.2 390.0,749.2 390.6,751.1 391.1,735.5 391.7,745.0 392.2,743.7 392.5,744.4 392.8,743.4 393.3,743.5 393.9,743.2 394.4,748.5 395.0,738.0 395.5,747.9 396.1,737.5 396.7,755.4 397.2,750.3 397.8,738.0 398.3,744.9 398.9,748.2 399.4,742.0 400.0,750.6 400.5,743.9 401.1,757.8 401.6,747.3 402.2,748.5 402.7,741.5 403.3,739.6 403.8,750.0 404.4,735.4 405.0,748.6 405.5,757.4 406.1,759.4 406.6,736.3 407.2,746.0 407.7,749.4 408.3,750.1 408.8,752.2 409.4,737.8 409.9,746.4 410.5,735.4 411.0,747.1 411.6,759.8 412.1,741.0 412.7,748.1 413.2,747.4 413.8,736.8 414.4,747.5 414.9,739.2 415.5,746.0 416.0,750.4 416.6,743.0 417.1,749.5 417.7,738.8 418.2,740.4 418.8,745.6 419.3,742.4 419.9,742.7 420.4,747.6 421.0,740.8 421.5,747.3 422.1,742.4 422.6,751.4 423.2,745.4 423.8,743.6 424.3,750.5 424.9,748.3 425.4,749.1 426.0,741.9 426.5,750.2 427.1,743.7 427.6,737.6 428.2,744.3 428.7,755.5 429.3,745.7 429.8,740.6 430.4,748.2 430.9,740.3 431.5,743.2 432.0,744.4 432.6,748.3 433.2,749.8 433.7,748.4 434.3,746.6 434.8,744.1 435.4,762.6 435.9,748.8 436.5,746.8 437.0,745.1 437.6,756.4 438.1,751.6 438.7,751.8 439.2,748.5 439.8,749.0 440.3,748.9 440.9,752.3 441.4,743.8 442.0,746.0 442.6,756.7 443.1,747.6 443.7,753.9 444.2,738.3 444.8,750.2 445.3,749.9 445.9,747.3 446.4,748.9 447.0,748.1 447.5,739.3 448.1,746.6 448.6,743.3 449.2,741.7 449.7,753.3 450.3,738.7 450.9,744.2 451.4,742.8 452.0,752.7 452.5,743.6 453.1,745.8 453.6,751.0 454.2,735.7 454.7,745.1 455.3,749.4 455.8,747.1 456.4,743.3 456.9,742.1 457.5,745.1 458.0,741.7 458.6,740.4 459.1,754.9 459.7,750.9 460.3,753.4 460.8,747.9 461.4,740.8 461.9,745.1 462.5,754.3 463.0,750.4 463.6,743.5 464.1,751.9 464.7,749.7 465.2,747.7 465.8,759.1 466.3,745.4 466.9,747.9 467.4,746.8 468.0,755.1 468.5,754.1 469.1,753.3 469.7,749.0 470.2,750.0 470.8,749.9 471.3,741.3 471.9,744.0 472.4,754.8 473.0,755.0 473.5,743.5 474.1,755.6 474.6,749.0 475.2,751.2 475.7,766.7 476.3,768.1 476.8,768.1 477.4,768.1 477.9,768.1 478.5,768.1 479.1,768.1 479.6,768.1 480.2,768.1 480.7,768.1 481.3,768.1 481.8,752.6 482.4,768.1 482.9,758.1 483.5,750.5 484.0,759.7 484.6,749.2 485.1,745.7 485.7,756.4 486.2,751.0 486.8,757.7 487.3,749.6 487.9,751.8 488.5,751.2 489.0,745.4 489.6,750.0 490.1,745.6 490.7,749.3 491.2,758.6 491.8,751.3 492.3,750.2 492.9,760.0 493.4,746.0 494.0,752.5 494.5,751.0 495.1,757.4 495.6,752.6 496.2,751.5 496.8,754.7 497.3,752.6 497.9,763.7 498.4,746.3 499.0,758.7 499.5,764.1 500.1,758.0 500.6,757.4 501.2,750.5 501.7,757.9 502.3,751.9 502.8,758.1 503.4,742.3 503.9,750.7 504.5,743.7 505.0,758.5 505.6,750.2 506.2,758.3 506.7,750.7 507.3,750.2 507.8,761.5 508.4,759.3 508.9,759.5 509.5,761.2 510.0,757.4 510.6,758.5 511.1,761.0 511.7,753.3 512.2,751.1 512.8,760.4 513.3,756.7 513.9,753.9 514.4,755.0 515.0,757.4 515.6,749.9 516.1,749.7 516.7,750.5 517.2,754.9 517.8,744.0 518.3,745.3 518.9,755.9 519.4,754.5 520.0,748.0 520.5,757.8 521.1,751.9 521.6,753.6 522.2,757.3 522.7,755.0 523.3,761.6 523.8,756.5 524.4,763.7 525.0,742.6 525.5,746.4 526.1,747.8 526.6,752.3 527.2,748.9 527.7,747.6 528.3,749.0 528.8,749.7 529.4,759.1 529.9,753.3 530.5,759.4 531.0,764.7 531.6,767.5 532.1,763.6 532.7,764.8 533.2,768.1 533.8,768.1 534.4,768.1 534.9,768.1 535.5,768.1 536.0,768.1 536.6,766.6 537.1,768.1 537.7,768.1 538.2,758.1 538.8,767.4 539.3,755.1 539.9,749.1 540.4,752.8 541.0,750.2 541.5,751.4 542.1,750.2 542.7,753.0 543.2,757.8 543.8,754.8 544.3,754.1 544.9,747.6 545.4,745.8 546.0,751.7 546.5,757.4 547.1,757.2 547.6,754.6 548.2,746.9 548.7,752.1 549.3,754.0 549.8,757.5 550.4,749.5 550.9,752.4 551.5,754.1 552.1,753.4 552.6,745.8 553.2,754.7 553.7,745.8 554.3,748.0 554.8,753.8 555.4,749.8 555.9,754.7 556.5,758.1 557.0,755.5 557.6,758.6 558.1,751.8 558.7,754.2 559.2,751.6 559.8,750.4 560.3,768.1 560.9,752.9 561.5,763.1 562.0,753.7 562.6,758.7 563.1,754.0 563.7,748.0 564.2,762.8 564.8,753.7 565.3,755.0 565.9,763.8 566.4,751.6 567.0,754.6 567.5,757.2 568.1,758.3 568.6,739.5 569.2,756.8 569.7,763.5 570.3,759.4 570.9,756.7 571.4,756.9 572.0,755.4 572.5,760.1 573.1,752.5 573.6,757.5 574.2,761.7 574.7,759.1 575.3,757.1 575.8,751.2 576.4,753.0 576.9,756.9 577.5,755.3 578.0,754.4 578.6,745.7 579.2,758.4 579.7,753.3 580.3,752.1 580.8,760.1 581.4,754.7 581.9,754.9 582.5,757.9 583.0,753.0 583.6,750.9 584.1,750.5 584.7,756.8 585.2,755.0 585.8,744.8 586.3,761.2 586.9,755.0 587.4,751.8 588.0,755.4 588.6,753.0 589.1,755.3 589.7,752.6 590.2,750.2 590.8,757.3 591.3,755.4 591.9,756.6 592.4,758.3 593.0,756.5 593.5,761.8 594.1,753.0 594.6,748.5 595.2,748.6 595.7,750.6 596.3,761.2 596.8,749.6 597.4,760.1 598.0,757.0 598.5,748.2 599.1,761.9 599.6,753.0 600.2,755.6 600.7,757.7 601.3,761.1 601.8,755.1 602.4,759.3 602.9,752.2 603.5,751.4 604.0,763.6 604.6,759.6 605.1,758.8 605.7,762.8 606.2,762.6 606.8,757.0 607.4,758.4 607.9,765.1 608.5,759.9 609.0,755.0 609.6,763.1 610.1,761.8 610.7,750.1 611.2,751.4 611.8,765.0 612.3,763.8 612.9,755.8 613.4,763.1 614.0,758.7 614.5,759.7 615.1,755.0 615.6,768.1 616.2,767.8 616.8,763.3 617.3,752.9 617.9,758.4 618.4,765.6 619.0,755.4 619.5,754.4 620.1,758.8 620.6,759.2 621.2,755.7 621.7,752.2 622.3,757.0 622.8,755.3 623.4,758.0 623.9,759.5 624.5,762.0 625.1,756.6 625.6,759.2 626.2,759.0 626.7,753.6 627.3,755.6 627.8,753.9 628.4,765.1 628.9,755.3 629.5,760.6 630.0,761.6 630.6,761.9 631.1,752.4 631.7,754.2 632.2,761.3 632.8,763.2 633.3,757.9 633.9,760.1 634.5,750.4 635.0,764.7 635.6,766.4 636.1,759.2 636.7,758.0 637.2,757.5 637.8,754.7 638.3,748.7 638.9,759.7 639.4,760.6 640.0,766.2 640.5,757.1 641.1,754.3 641.6,759.4 642.2,752.9 642.7,758.1 643.3,751.4 643.9,756.7 644.4,763.1 645.0,761.1 645.5,765.2 646.1,766.1 646.6,756.9 647.2,754.2 647.7,749.2 648.3,758.3 648.8,759.1 649.4,763.0 649.9,753.5 650.5,756.2 651.0,760.6 651.6,754.8 652.1,755.3 652.7,766.3 653.3,754.4 653.8,757.1 654.4,759.5 654.9,759.6 655.5,749.8 656.0,750.7 656.6,749.4 657.1,762.7 657.7,760.5 658.2,753.4 658.8,762.9 659.3,760.7 659.9,765.5 660.4,749.1 661.0,752.6 661.5,755.3 662.1,756.3 662.7,759.1 663.2,759.0 663.8,754.4 664.3,760.4 664.9,751.6 665.4,759.3 666.0,761.0 666.5,751.2 667.1,757.7 667.6,754.5 668.2,758.8 668.7,767.0 669.3,754.5 669.8,762.9 670.4,752.0 671.0,763.7 671.5,765.1 672.1,755.4 672.6,754.8 673.2,756.2 673.7,762.0" fill="none" stroke="#00ff00" stroke-width="2.0" stroke-linejoin="miter" stroke-miterlimit="2"/>
<rect x="543.6" y="714.2" width="114.0" height="26.6" fill="#ffff80"/>
<text transform="translate(600.6,734.8) scale(1,1.05)" font-size="19.5" text-anchor="middle" fill="#000" stroke="#000">Xc = 10.62 %</text>
<rect x="516.9" y="635.1" width="143.1" height="23.6" fill="#fff" stroke="#606060" stroke-width="1.4"/>
<line x1="518.4" y1="646.7" x2="557.9" y2="646.7" stroke="#00ff00" stroke-opacity="0.8" stroke-width="2"/>
<text transform="translate(657.4,652.7) scale(1,1.05)" font-size="16.6" text-anchor="end" fill="#000" stroke="#000">CGNHSCN16</text>
<line x1="514.9" y1="635.1" x2="662" y2="635.1" stroke="#000" stroke-width="2.9"/>
<rect x="74.8" y="791.2" width="599.1" height="133.4" fill="none" stroke="#000" stroke-width="2.9"/>
<line x1="63.2" y1="924.60" x2="74.8" y2="924.60" stroke="#000" stroke-width="2.9"/>
<text transform="translate(55.4,930.6) scale(1,1.05)" font-size="19.8" text-anchor="end" fill="#000" stroke="#000">0</text>
<line x1="63.2" y1="880.13" x2="74.8" y2="880.13" stroke="#000" stroke-width="2.9"/>
<text transform="translate(55.4,886.1) scale(1,1.05)" font-size="19.8" text-anchor="end" fill="#000" stroke="#000">30</text>
<line x1="63.2" y1="835.67" x2="74.8" y2="835.67" stroke="#000" stroke-width="2.9"/>
<text transform="translate(55.4,841.7) scale(1,1.05)" font-size="19.8" text-anchor="end" fill="#000" stroke="#000">60</text>
<line x1="63.2" y1="791.20" x2="74.8" y2="791.20" stroke="#000" stroke-width="2.9"/>
<text transform="translate(55.4,797.2) scale(1,1.05)" font-size="19.8" text-anchor="end" fill="#000" stroke="#000">90</text>
<text transform="translate(25.3,858.2) rotate(-90)" font-size="19.7" text-anchor="middle" fill="#000" stroke="#000">Intensity (a.u.)</text>
<polyline points="74.8,884.0 75.4,894.3 75.9,891.2 76.5,893.4 77.0,892.6 77.6,888.6 78.1,895.4 78.7,891.5 79.2,891.9 79.8,902.2 80.3,900.5 80.9,897.8 81.4,899.2 82.0,896.0 82.5,905.7 83.1,895.3 83.6,895.7 84.2,900.0 84.8,905.5 85.3,900.3 85.9,903.0 86.4,899.0 87.0,902.0 87.5,898.7 88.1,903.5 88.6,895.8 89.2,911.3 89.7,906.0 90.3,899.8 90.8,908.1 91.4,898.8 91.9,907.0 92.5,901.5 93.0,905.8 93.6,903.8 94.2,901.3 94.7,902.5 95.3,903.7 95.8,893.0 96.4,902.1 96.9,906.2 97.5,898.2 98.0,898.7 98.6,897.0 99.1,894.7 99.7,906.3 100.2,897.8 100.8,897.5 101.3,902.4 101.9,901.3 102.5,915.2 103.0,904.9 103.6,894.9 104.1,910.2 104.7,904.9 105.2,901.4 105.8,900.2 106.3,895.7 106.9,910.3 107.4,902.6 108.0,899.1 108.5,908.5 109.1,903.0 109.6,894.7 110.2,897.2 110.7,900.6 111.3,914.4 111.9,903.6 112.4,901.4 113.0,904.2 113.5,902.7 114.1,888.5 114.6,902.5 115.2,905.4 115.7,899.7 116.3,901.8 116.8,901.3 117.4,899.9 117.9,895.7 118.5,897.7 119.0,903.6 119.6,898.5 120.1,895.2 120.7,898.6 121.3,890.6 121.8,891.4 122.4,898.5 122.9,891.8 123.5,883.3 124.0,884.4 124.6,891.0 125.1,885.8 125.7,892.3 126.2,895.7 126.8,886.4 127.3,888.1 127.9,887.0 128.4,889.9 129.0,888.4 129.5,892.7 130.1,888.1 130.7,886.5 131.2,891.1 131.8,887.0 132.3,900.2 132.9,895.5 133.4,884.3 134.0,882.1 134.5,889.4 135.1,890.7 135.6,896.3 136.2,887.4 136.7,884.7 137.3,896.2 137.8,884.9 138.4,884.8 138.9,884.6 139.5,892.6 140.1,883.1 140.6,893.7 141.2,876.9 141.7,883.8 142.3,890.4 142.8,875.5 143.4,875.5 143.9,884.7 144.5,867.6 145.0,884.8 145.6,876.3 146.1,870.3 146.7,889.2 147.2,869.3 147.8,874.6 148.4,873.3 148.9,878.6 149.5,859.5 150.0,878.4 150.6,878.1 151.1,875.6 151.7,880.9 152.2,864.5 152.8,882.7 153.3,879.7 153.9,877.6 154.4,876.2 155.0,871.9 155.5,872.3 156.1,879.8 156.6,880.9 157.2,878.3 157.8,873.0 158.3,873.6 158.9,881.1 159.4,890.8 160.0,863.4 160.5,870.9 161.1,875.1 161.6,874.3 162.2,879.7 162.7,882.7 163.3,878.0 163.8,877.1 164.4,879.5 164.9,884.9 165.5,877.0 166.0,870.7 166.6,877.7 167.2,874.1 167.7,888.6 168.3,875.9 168.8,875.4 169.4,883.3 169.9,887.0 170.5,871.9 171.0,880.7 171.6,871.5 172.1,878.2 172.7,870.7 173.2,877.8 173.8,886.6 174.3,876.2 174.9,878.1 175.4,870.8 176.0,879.3 176.6,879.0 177.1,869.5 177.7,867.2 178.2,870.4 178.5,868.2 178.8,872.8 179.3,870.4 179.9,869.6 180.4,872.9 181.0,875.1 181.5,874.0 182.1,855.2 182.6,874.1 183.2,875.6 183.7,876.2 184.3,873.0 184.9,870.2 185.4,881.3 186.0,888.0 186.5,868.3 187.1,884.0 187.6,867.7 188.2,868.2 188.7,859.0 189.3,853.9 189.8,864.8 190.4,872.4 190.9,877.4 191.5,873.6 192.0,865.7 192.6,884.1 193.1,864.4 193.7,864.7 194.3,858.3 194.8,866.6 195.4,861.9 195.9,868.9 196.5,865.7 197.0,877.2 197.6,858.7 198.1,844.5 198.7,856.9 199.2,854.2 199.8,866.3 200.3,842.4 200.9,862.8 201.4,846.9 202.0,852.9 202.5,862.6 203.1,842.4 203.7,851.6 204.2,849.2 204.8,845.7 205.3,849.7 205.9,852.7 206.4,843.8 207.0,852.2 207.5,847.0 208.1,854.1 208.6,862.2 209.2,853.4 209.7,851.2 210.3,845.5 210.8,832.8 211.4,862.6 211.9,843.1 212.5,867.5 213.1,854.8 213.6,848.6 214.2,866.9 214.7,862.3 215.3,840.3 215.8,840.8 216.4,842.7 216.9,850.0 217.5,818.1 218.0,842.9 218.6,850.3 219.1,822.8 219.7,834.2 220.2,844.7 220.8,827.7 221.3,838.8 221.9,833.4 222.5,837.7 223.0,851.3 223.6,829.5 224.1,838.2 224.7,850.8 225.2,848.0 225.8,829.2 226.3,843.5 226.9,838.9 227.4,832.1 228.0,837.7 228.5,855.8 229.1,831.9 229.6,828.5 230.2,829.2 230.8,820.7 231.3,834.1 231.9,829.2 232.4,819.8 233.0,840.2 233.5,817.4 234.1,817.0 234.6,827.1 235.2,815.0 235.7,825.6 236.3,844.5 236.8,821.6 237.4,830.3 237.9,828.9 238.5,831.4 239.0,817.6 239.6,826.2 240.2,839.8 240.7,826.2 241.3,823.0 241.8,839.0 242.4,835.3 242.9,834.4 243.5,836.5 244.0,825.4 244.6,817.4 245.1,807.2 245.7,814.9 246.2,816.9 246.8,815.6 247.3,813.4 247.9,832.9 248.4,820.8 249.0,825.0 249.6,830.2 250.1,834.0 250.7,834.6 251.2,831.9 251.8,843.0 252.3,823.0 252.9,828.6 253.4,825.3 254.0,820.7 254.5,814.4 255.1,827.6 255.6,820.1 256.4,795.2 256.7,842.2 257.3,839.3 257.8,803.1 258.4,838.7 259.0,812.5 259.5,803.1 260.1,823.9 260.6,803.1 261.2,803.1 261.4,808.7 261.7,803.1 262.3,813.2 262.8,829.4 263.4,815.9 263.9,827.6 264.5,838.0 265.0,838.4 265.6,803.1 266.1,831.6 266.7,826.6 267.2,834.5 267.8,826.3 268.4,831.2 268.9,833.8 269.5,843.5 270.0,846.7 270.6,840.3 271.1,829.8 271.7,811.3 272.2,823.5 272.8,816.1 273.3,831.7 273.6,838.4 273.9,852.3 274.4,838.9 275.0,863.1 275.5,844.2 276.1,824.4 276.7,839.4 277.2,831.0 277.8,847.4 278.3,858.2 278.9,848.8 279.4,848.2 280.0,831.5 280.5,823.6 281.1,852.4 281.6,848.6 282.2,846.6 282.7,848.9 283.3,858.4 283.8,844.8 284.4,842.3 284.9,842.5 285.5,859.2 286.1,848.4 286.6,865.4 287.2,838.7 287.7,858.8 288.3,851.5 288.8,853.7 289.4,855.4 289.9,860.6 290.5,868.1 291.0,833.3 291.6,848.6 292.1,849.0 292.7,831.2 293.2,853.6 293.8,847.6 294.3,853.4 294.9,842.4 295.5,849.7 296.0,852.0 296.6,858.1 297.1,853.4 297.7,845.3 298.2,877.2 298.8,858.8 299.3,862.2 299.9,861.6 300.4,878.2 301.0,852.8 301.5,868.4 302.1,863.1 302.6,866.3 303.2,877.8 303.7,866.8 304.3,880.4 304.9,872.5 305.4,867.2 306.1,865.0 306.5,864.7 307.1,866.7 307.6,845.9 308.2,861.9 308.7,877.5 309.3,872.1 309.8,872.8 310.4,868.6 310.9,872.8 311.5,875.4 312.0,852.7 312.6,867.7 313.1,871.4 313.7,870.9 314.3,870.8 314.8,856.5 315.4,865.0 315.9,859.5 316.5,897.9 317.0,867.2 317.6,860.9 318.1,853.0 318.7,870.7 319.2,886.5 319.8,866.2 320.3,877.0 320.9,887.8 321.4,877.7 322.0,863.1 322.6,862.0 323.1,866.5 323.7,882.3 324.2,851.3 324.8,883.7 325.3,874.4 325.9,886.5 326.4,862.7 327.0,870.5 327.5,866.9 328.1,874.1 328.6,875.7 329.2,873.8 329.7,891.7 330.3,867.2 330.8,868.1 331.4,879.5 332.0,876.5 332.5,874.1 333.1,863.5 333.6,873.4 334.2,876.9 334.7,881.8 335.3,890.4 335.8,882.9 336.4,877.4 336.9,880.2 337.5,877.6 338.0,872.1 338.6,874.8 339.1,876.3 339.7,873.2 340.2,877.2 340.8,879.1 341.4,875.1 341.9,893.3 342.5,868.9 343.0,889.9 343.6,872.6 344.1,850.5 344.7,870.7 345.2,879.5 345.8,887.5 346.3,871.3 346.9,878.6 347.4,879.3 348.0,879.7 348.5,872.4 349.1,874.0 349.6,879.0 350.2,893.8 350.8,885.3 351.3,881.9 351.9,869.1 352.4,880.7 353.0,884.7 353.5,874.7 354.1,885.2 354.6,884.7 355.2,883.4 355.7,896.4 356.3,877.5 356.8,881.8 357.4,887.5 357.9,894.3 358.5,884.0 359.0,875.0 359.6,890.9 360.2,894.2 360.7,883.1 361.3,898.6 361.8,903.5 362.4,890.1 362.9,892.2 363.5,889.2 364.0,891.4 364.6,884.9 365.1,889.3 365.7,892.3 366.2,891.4 366.8,883.4 367.3,881.1 367.9,881.6 368.5,883.3 369.0,912.9 369.6,896.1 370.1,891.1 370.7,887.4 371.2,900.8 371.8,878.7 372.3,887.0 372.9,893.9 373.4,888.3 374.0,892.1 374.5,895.2 375.1,886.1 375.6,893.2 376.2,900.1 376.7,894.7 377.3,891.0 377.9,898.0 378.4,881.5 379.0,898.3 379.5,878.2 380.1,884.5 380.6,897.5 381.2,890.1 381.7,882.8 382.3,892.4 382.8,899.4 383.4,890.3 383.9,877.3 384.5,901.4 385.0,887.3 385.6,891.0 386.1,891.9 386.7,893.8 387.3,893.3 387.8,884.0 388.4,887.0 389.1,897.8 389.5,880.5 390.0,899.8 390.6,886.6 391.1,889.9 391.7,883.1 392.2,888.7 392.5,884.0 392.8,891.2 393.3,884.6 393.9,888.8 394.4,876.9 395.0,895.7 395.5,883.2 396.1,888.0 396.7,889.9 397.2,894.8 397.8,888.2 398.3,900.7 398.9,900.0 399.4,886.5 400.0,901.1 400.5,881.8 401.1,892.8 401.6,889.5 402.2,890.6 402.7,888.4 403.3,892.9 403.8,893.4 404.4,891.9 405.0,884.4 405.5,883.8 406.1,883.0 406.6,888.7 407.2,892.3 407.7,901.7 408.3,887.0 408.8,885.8 409.4,893.6 409.9,886.0 410.5,883.0 411.0,890.5 411.6,884.4 412.1,889.1 412.7,901.9 413.2,894.0 413.8,893.6 414.4,887.8 414.9,896.4 415.5,893.8 416.0,897.0 416.6,891.3 417.1,890.6 417.7,885.1 418.2,886.2 418.8,890.1 419.3,889.6 419.9,890.4 420.4,890.4 421.0,881.6 421.5,906.2 422.1,892.1 422.6,889.2 423.2,884.2 423.8,897.7 424.3,889.0 424.9,885.9 425.4,893.8 426.0,902.8 426.5,893.5 427.1,898.7 427.6,887.7 428.2,896.8 428.7,881.2 429.3,891.1 429.8,896.8 430.4,895.2 430.9,898.7 431.5,890.1 432.0,883.7 432.6,893.9 433.2,887.3 433.7,898.4 434.3,891.1 434.8,879.6 435.4,901.4 435.9,886.1 436.5,886.6 437.0,904.4 437.6,902.0 438.1,899.4 438.7,888.2 439.2,896.4 439.8,895.0 440.3,890.1 440.9,893.6 441.4,893.1 442.0,896.3 442.6,888.1 443.1,899.1 443.7,885.2 444.2,896.8 444.8,899.5 445.3,891.4 445.9,892.6 446.4,906.4 447.0,894.1 447.5,903.0 448.1,900.2 448.6,891.2 449.2,900.5 449.7,893.8 450.3,898.0 450.9,885.2 451.4,896.6 452.0,902.7 452.5,902.4 453.1,901.4 453.6,895.8 454.2,896.6 454.7,891.3 455.3,895.8 455.8,896.1 456.4,878.7 456.9,897.9 457.5,895.8 458.0,893.3 458.6,893.6 459.1,901.0 459.7,907.8 460.3,902.8 460.8,897.2 461.4,912.3 461.9,901.7 462.5,896.9 463.0,902.6 463.6,905.7 464.1,890.6 464.7,892.8 465.2,901.8 465.8,893.6 466.3,894.0 466.9,907.0 467.4,887.1 468.0,906.4 468.5,903.1 469.1,907.7 469.7,901.7 470.2,909.2 470.8,902.5 471.3,896.8 471.9,901.4 472.4,904.0 473.0,894.6 473.5,907.4 474.1,897.8 474.6,904.4 475.2,901.8 475.7,902.8 476.3,902.4 476.8,903.3 477.4,907.1 477.9,906.1 478.5,901.0 479.1,903.9 479.6,909.3 480.2,907.0 480.7,907.0 481.3,903.8 481.8,902.7 482.4,903.2 482.9,907.0 483.5,903.7 484.0,910.7 484.6,918.3 485.1,904.2 485.7,912.2 486.2,908.8 486.8,910.1 487.3,901.1 487.9,910.2 488.5,903.0 489.0,906.8 489.6,910.5 490.1,912.2 490.7,902.3 491.2,902.8 491.8,900.9 492.3,895.8 492.9,903.5 493.4,903.5 494.0,905.6 494.5,904.5 495.1,906.8 495.6,909.5 496.2,895.5 496.8,914.3 497.3,904.1 497.9,903.2 498.4,904.7 499.0,910.2 499.5,906.5 500.1,907.9 500.6,910.9 501.2,906.0 501.7,907.8 502.3,908.6 502.8,902.6 503.4,911.1 503.9,903.9 504.5,909.1 505.0,904.1 505.6,905.9 506.2,905.1 506.7,911.0 507.3,910.0 507.8,910.4 508.4,905.4 508.9,902.7 509.5,901.1 510.0,908.7 510.6,905.9 511.1,914.1 511.7,917.0 512.2,910.5 512.8,909.6 513.3,913.9 513.9,915.0 514.4,903.9 515.0,910.3 515.6,914.5 516.1,895.3 516.7,905.7 517.2,908.0 517.8,903.3 518.3,910.2 518.9,898.9 519.4,913.9 520.0,912.8 520.5,907.2 521.1,910.2 521.6,899.9 522.2,914.3 522.7,910.1 523.3,905.5 523.8,904.0 524.4,901.9 525.0,905.1 525.5,896.2 526.1,909.0 526.6,905.9 527.2,902.7 527.7,908.3 528.3,908.2 528.8,909.0 529.4,909.9 529.9,912.2 530.5,909.5 531.0,914.2 531.6,905.0 532.1,914.4 532.7,897.1 533.2,898.8 533.8,901.7 534.4,907.9 534.9,909.7 535.5,901.1 536.0,906.1 536.6,904.3 537.1,910.4 537.7,902.0 538.2,910.8 538.8,906.5 539.3,915.2 539.9,910.1 540.4,904.7 541.0,909.2 541.5,909.2 542.1,903.4 542.7,907.4 543.2,901.3 543.8,918.5 544.3,904.5 544.9,904.8 545.4,914.4 546.0,913.2 546.5,903.0 547.1,912.2 547.6,910.2 548.2,904.4 548.7,908.8 549.3,905.0 549.8,911.4 550.4,905.9 550.9,902.3 551.5,905.9 552.1,917.7 552.6,904.5 553.2,907.3 553.7,911.8 554.3,901.1 554.8,915.8 555.4,899.0 555.9,910.7 556.5,900.4 557.0,908.0 557.6,914.0 558.1,907.4 558.7,906.4 559.2,905.4 559.8,903.1 560.3,912.2 560.9,905.8 561.5,904.7 562.0,909.4 562.6,912.5 563.1,912.7 563.7,904.8 564.2,904.6 564.8,912.2 565.3,914.6 565.9,902.7 566.4,915.7 567.0,907.8 567.5,912.3 568.1,916.7 568.6,908.1 569.2,909.5 569.7,902.1 570.3,898.3 570.9,909.7 571.4,904.1 572.0,904.1 572.5,911.3 573.1,912.9 573.6,901.6 574.2,910.7 574.7,909.2 575.3,910.4 575.8,909.8 576.4,912.0 576.9,905.8 577.5,903.5 578.0,911.0 578.6,915.7 579.2,909.2 579.7,916.3 580.3,912.4 580.8,903.9 581.4,899.0 581.9,907.9 582.5,914.6 583.0,906.2 583.6,920.0 584.1,913.0 584.7,902.9 585.2,906.5 585.8,916.3 586.3,917.6 586.9,906.2 587.4,910.3 588.0,912.9 588.6,908.3 589.1,912.9 589.7,919.1 590.2,906.7 590.8,913.4 591.3,915.0 591.9,916.6 592.4,909.4 593.0,914.3 593.5,907.8 594.1,911.9 594.6,905.9 595.2,912.6 595.7,913.8 596.3,919.8 596.8,915.9 597.4,907.7 598.0,897.2 598.5,916.8 599.1,915.8 599.6,909.7 600.2,909.1 600.7,914.3 601.3,911.0 601.8,918.6 602.4,912.8 602.9,907.4 603.5,904.2 604.0,912.3 604.6,912.8 605.1,909.6 605.7,906.7 606.2,909.6 606.8,915.2 607.4,910.2 607.9,907.5 608.5,915.1 609.0,917.9 609.6,909.6 610.1,910.3 610.7,907.6 611.2,911.5 611.8,914.8 612.3,913.9 612.9,916.6 613.4,916.2 614.0,914.5 614.5,914.2 615.1,907.1 615.6,917.5 616.2,912.3 616.8,914.7 617.3,905.4 617.9,910.9 618.4,913.8 619.0,908.5 619.5,911.8 620.1,914.3 620.6,905.3 621.2,909.0 621.7,904.5 622.3,907.1 622.8,908.8 623.4,911.6 623.9,917.1 624.5,909.1 625.1,912.0 625.6,909.3 626.2,912.3 626.7,915.4 627.3,916.8 627.8,909.2 628.4,906.6 628.9,913.6 629.5,910.4 630.0,906.3 630.6,916.1 631.1,913.9 631.7,917.4 632.2,907.3 632.8,911.3 633.3,914.5 633.9,919.8 634.5,913.3 635.0,908.1 635.6,913.8 636.1,914.4 636.7,909.8 637.2,918.0 637.8,912.4 638.3,910.0 638.9,916.0 639.4,916.3 640.0,911.6 640.5,913.1 641.1,913.7 641.6,911.8 642.2,911.7 642.7,916.8 643.3,915.6 643.9,910.8 644.4,907.9 645.0,906.9 645.5,916.5 646.1,908.1 646.6,909.6 647.2,913.1 647.7,910.8 648.3,909.4 648.8,905.3 649.4,917.7 649.9,910.5 650.5,913.7 651.0,914.1 651.6,908.2 652.1,909.7 652.7,917.7 653.3,914.5 653.8,912.4 654.4,919.5 654.9,909.7 655.5,913.8 656.0,912.8 656.6,912.1 657.1,905.8 657.7,913.4 658.2,915.2 658.8,906.2 659.3,915.9 659.9,916.0 660.4,919.7 661.0,909.2 661.5,912.7 662.1,911.9 662.7,913.2 663.2,914.5 663.8,917.4 664.3,917.4 664.9,912.2 665.4,913.6 666.0,907.1 666.5,917.4 667.1,916.3 667.6,918.6 668.2,908.4 668.7,919.6 669.3,911.1 669.8,908.2 670.4,915.0 671.0,911.4 671.5,923.5 672.1,916.2 672.6,921.6 673.2,913.9 673.7,914.6" fill="none" stroke="#ff0000" stroke-width="2.0" stroke-linejoin="miter" stroke-miterlimit="2"/>
<rect x="557.2" y="873.5" width="113.7" height="27.0" fill="#ffff80"/>
<text transform="translate(614.0,894.5) scale(1,1.05)" font-size="19.5" text-anchor="middle" fill="#000" stroke="#000">Xc = 13.37 %</text>
<rect x="524.8" y="791.2" width="135.2" height="23.6" fill="#fff" stroke="#606060" stroke-width="1.4"/>
<line x1="526.3" y1="802.8" x2="565.8" y2="802.8" stroke="#ff0000" stroke-opacity="0.8" stroke-width="2"/>
<text transform="translate(657.4,808.8) scale(1,1.05)" font-size="16.6" text-anchor="end" fill="#000" stroke="#000">CGNHSCN8</text>
<line x1="522.8" y1="791.2" x2="662" y2="791.2" stroke="#000" stroke-width="2.9"/>
<line x1="74.80" y1="924.6" x2="74.80" y2="935.7" stroke="#000" stroke-width="2.7"/>
<text transform="translate(74.80,959.8) scale(1,1.05)" font-size="19.8" text-anchor="middle" fill="#000" stroke="#000">5</text>
<line x1="120.88" y1="924.6" x2="120.88" y2="935.7" stroke="#000" stroke-width="2.7"/>
<text transform="translate(120.88,959.8) scale(1,1.05)" font-size="19.8" text-anchor="middle" fill="#000" stroke="#000">10</text>
<line x1="166.97" y1="924.6" x2="166.97" y2="935.7" stroke="#000" stroke-width="2.7"/>
<text transform="translate(166.97,959.8) scale(1,1.05)" font-size="19.8" text-anchor="middle" fill="#000" stroke="#000">15</text>
<line x1="213.05" y1="924.6" x2="213.05" y2="935.7" stroke="#000" stroke-width="2.7"/>
<text transform="translate(213.05,959.8) scale(1,1.05)" font-size="19.8" text-anchor="middle" fill="#000" stroke="#000">20</text>
<line x1="259.14" y1="924.6" x2="259.14" y2="935.7" stroke="#000" stroke-width="2.7"/>
<text transform="translate(259.14,959.8) scale(1,1.05)" font-size="19.8" text-anchor="middle" fill="#000" stroke="#000">25</text>
<line x1="305.22" y1="924.6" x2="305.22" y2="935.7" stroke="#000" stroke-width="2.7"/>
<text transform="translate(305.22,959.8) scale(1,1.05)" font-size="19.8" text-anchor="middle" fill="#000" stroke="#000">30</text>
<line x1="351.31" y1="924.6" x2="351.31" y2="935.7" stroke="#000" stroke-width="2.7"/>
<text transform="translate(351.31,959.8) scale(1,1.05)" font-size="19.8" text-anchor="middle" fill="#000" stroke="#000">35</text>
<line x1="397.39" y1="924.6" x2="397.39" y2="935.7" stroke="#000" stroke-width="2.7"/>
<text transform="translate(397.39,959.8) scale(1,1.05)" font-size="19.8" text-anchor="middle" fill="#000" stroke="#000">40</text>
<line x1="443.48" y1="924.6" x2="443.48" y2="935.7" stroke="#000" stroke-width="2.7"/>
<text transform="translate(443.48,959.8) scale(1,1.05)" font-size="19.8" text-anchor="middle" fill="#000" stroke="#000">45</text>
<line x1="489.56" y1="924.6" x2="489.56" y2="935.7" stroke="#000" stroke-width="2.7"/>
<text transform="translate(489.56,959.8) scale(1,1.05)" font-size="19.8" text-anchor="middle" fill="#000" stroke="#000">50</text>
<line x1="535.65" y1="924.6" x2="535.65" y2="935.7" stroke="#000" stroke-width="2.7"/>
<text transform="translate(535.65,959.8) scale(1,1.05)" font-size="19.8" text-anchor="middle" fill="#000" stroke="#000">55</text>
<line x1="581.73" y1="924.6" x2="581.73" y2="935.7" stroke="#000" stroke-width="2.7"/>
<text transform="translate(581.73,959.8) scale(1,1.05)" font-size="19.8" text-anchor="middle" fill="#000" stroke="#000">60</text>
<line x1="627.82" y1="924.6" x2="627.82" y2="935.7" stroke="#000" stroke-width="2.7"/>
<text transform="translate(627.82,959.8) scale(1,1.05)" font-size="19.8" text-anchor="middle" fill="#000" stroke="#000">65</text>
<line x1="673.90" y1="924.6" x2="673.90" y2="935.7" stroke="#000" stroke-width="2.7"/>
<text transform="translate(673.90,959.8) scale(1,1.05)" font-size="19.8" text-anchor="middle" fill="#000" stroke="#000">70</text>
<text transform="translate(374.3,994.0) scale(1,1.05)" font-size="19.5" text-anchor="middle" fill="#000" stroke="#000">2 Theta ( degree)</text>
</svg></body></html>
